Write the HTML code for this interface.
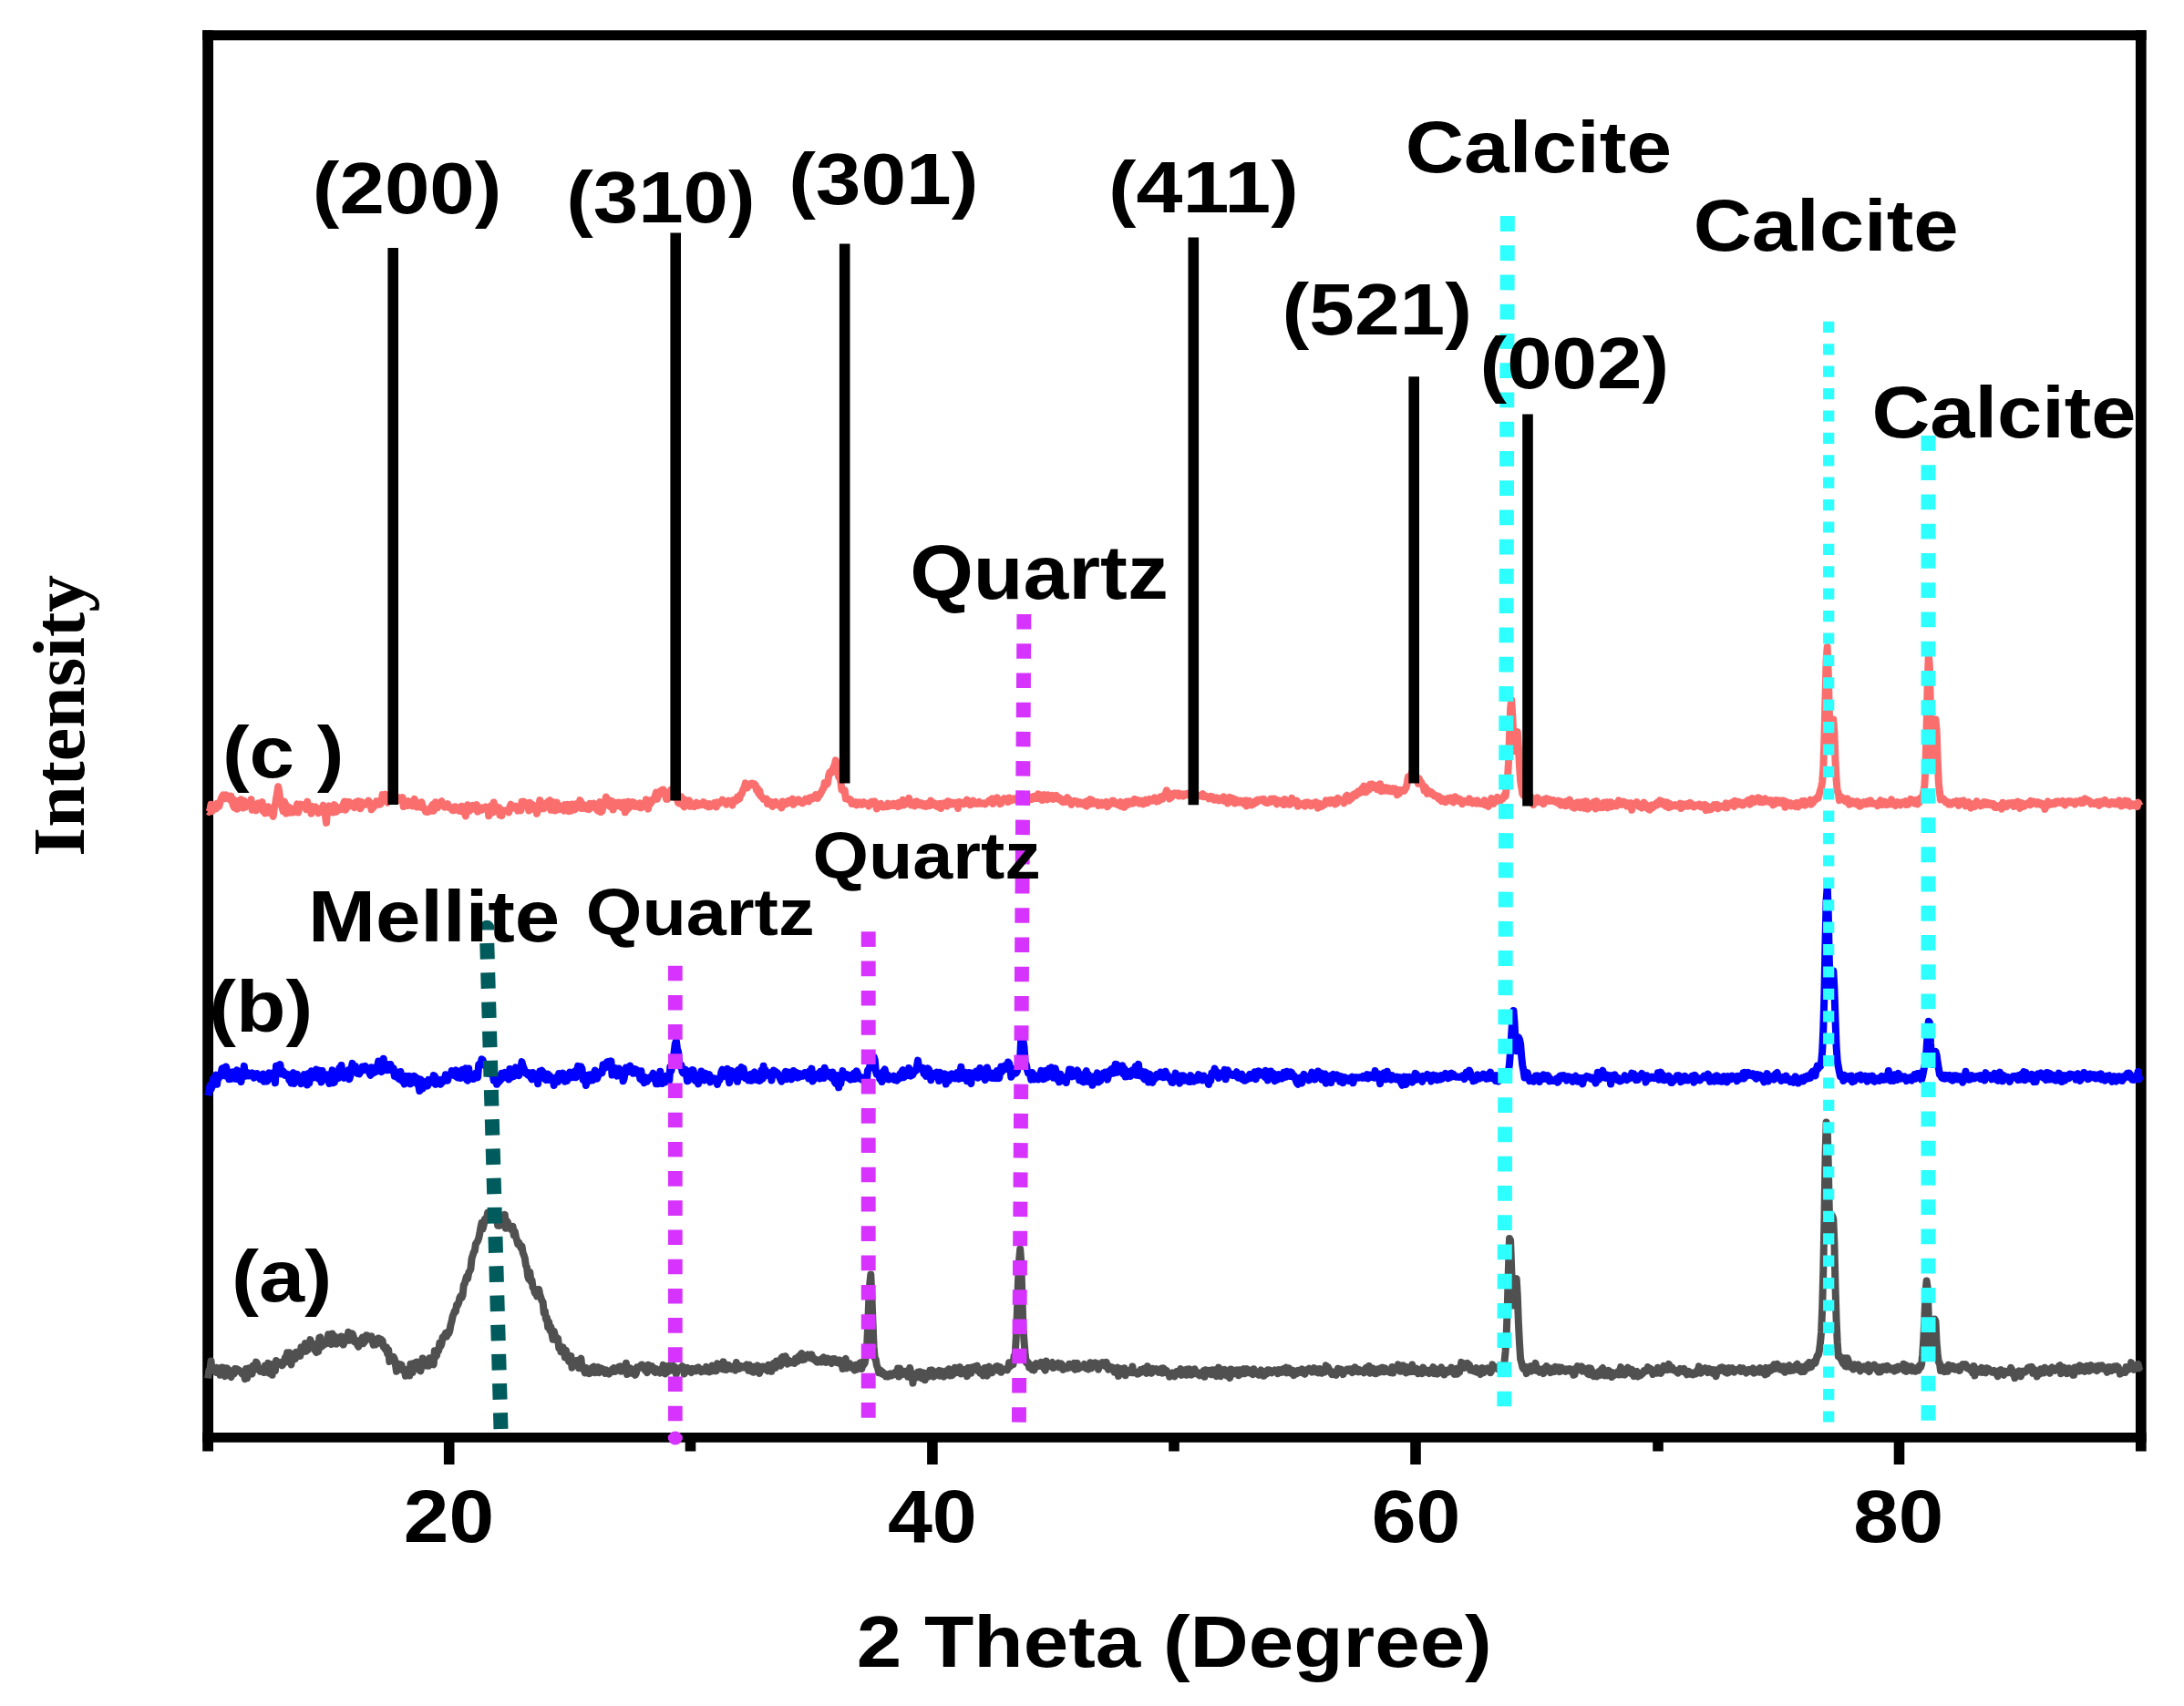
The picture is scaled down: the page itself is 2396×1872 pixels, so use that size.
<!DOCTYPE html>
<html lang="en">
<head>
<meta charset="utf-8">
<title>XRD patterns</title>
<style>
html,body{margin:0;padding:0;background:#fff;}
body{width:2396px;height:1872px;overflow:hidden;}
svg{display:block;}
</style>
</head>
<body>
<svg width="2396" height="1872" viewBox="0 0 2396 1872">
<rect width="2396" height="1872" fill="#fff"/>
<g stroke="#000" fill="none" stroke-linecap="butt">
<line x1="228.1" y1="33.2" x2="228.1" y2="1592.5" stroke-width="11.8"/>
<line x1="2348.8" y1="33.2" x2="2348.8" y2="1592.5" stroke-width="11.7"/>
<line x1="222.2" y1="38.7" x2="2354.6" y2="38.7" stroke-width="11"/>
<line x1="222.2" y1="1577.4" x2="2354.6" y2="1577.4" stroke-width="10.6"/>
<line x1="492.7" y1="1577" x2="492.7" y2="1607" stroke-width="11.6"/>
<line x1="1022.9" y1="1577" x2="1022.9" y2="1607" stroke-width="11.6"/>
<line x1="1553.0" y1="1577" x2="1553.0" y2="1607" stroke-width="11.6"/>
<line x1="2083.5" y1="1577" x2="2083.5" y2="1607" stroke-width="11.6"/>
<line x1="757.5" y1="1577" x2="757.5" y2="1592.5" stroke-width="11.6"/>
<line x1="1288.0" y1="1577" x2="1288.0" y2="1592.5" stroke-width="11.6"/>
<line x1="1819.0" y1="1577" x2="1819.0" y2="1592.5" stroke-width="11.6"/>
</g>
<polyline points="228.2,1512.5 229.3,1503.9 230.4,1502.4 231.5,1493.5 232.6,1503.2 233.7,1501.9 234.8,1501.2 235.9,1504.8 237.0,1505.8 238.1,1500.9 239.2,1502.2 240.3,1504.2 241.4,1508.8 242.5,1508.1 243.6,1500.6 244.7,1500.7 245.8,1507.2 246.9,1510.0 248.0,1503.7 249.1,1501.4 250.2,1508.4 251.3,1503.5 252.4,1507.8 253.5,1511.1 254.6,1507.5 255.7,1505.2 256.8,1507.5 257.9,1502.0 259.0,1503.7 260.1,1502.4 261.2,1504.1 262.3,1503.6 263.4,1505.3 264.5,1505.2 265.6,1507.5 266.7,1507.9 267.8,1509.0 268.9,1513.2 270.0,1501.9 271.1,1512.3 272.2,1505.9 273.3,1501.4 274.4,1504.6 275.5,1504.8 276.6,1507.6 277.7,1498.6 278.8,1502.8 279.9,1501.8 281.0,1494.6 282.1,1496.2 283.2,1502.8 284.3,1503.2 285.4,1504.7 286.5,1502.7 287.6,1502.4 288.7,1501.6 289.8,1506.0 290.9,1498.5 292.0,1501.3 293.1,1503.4 294.2,1495.9 295.3,1506.7 296.4,1498.5 297.5,1500.9 298.6,1508.8 299.7,1496.8 300.8,1497.1 301.9,1504.0 303.0,1492.9 304.1,1494.3 305.2,1497.0 306.3,1496.1 307.4,1496.1 308.5,1494.9 309.6,1498.3 310.7,1496.7 311.8,1494.7 312.9,1489.5 314.0,1489.1 315.1,1484.4 316.2,1494.0 317.3,1484.3 318.4,1494.2 319.5,1497.4 320.6,1485.8 321.7,1486.6 322.8,1486.8 323.9,1491.1 325.0,1483.9 326.1,1485.8 327.2,1483.3 328.3,1483.2 329.4,1487.9 330.5,1478.3 331.6,1481.3 332.7,1481.2 333.8,1482.8 334.9,1474.1 336.0,1482.7 337.1,1479.6 338.2,1480.8 339.3,1477.2 340.4,1470.1 341.5,1473.4 342.6,1478.5 343.7,1475.4 344.8,1475.1 345.9,1482.2 347.0,1484.0 348.1,1475.5 349.2,1483.0 350.3,1467.9 351.4,1467.4 352.5,1478.1 353.6,1473.4 354.7,1476.2 355.8,1475.3 356.9,1472.3 358.0,1474.3 359.1,1471.4 360.2,1464.2 361.3,1470.1 362.4,1469.4 363.5,1475.1 364.6,1463.5 365.7,1467.6 366.8,1466.0 367.9,1467.4 369.0,1474.7 370.1,1470.5 371.2,1467.9 372.3,1470.7 373.4,1473.2 374.5,1466.5 375.6,1469.0 376.7,1475.5 377.8,1472.5 378.9,1468.7 380.0,1466.6 381.1,1467.4 382.2,1461.7 383.3,1470.9 384.4,1468.6 385.5,1468.1 386.6,1463.3 387.7,1466.5 388.8,1472.4 389.9,1472.7 391.0,1471.0 392.1,1475.6 393.2,1477.7 394.3,1471.5 395.4,1471.6 396.5,1469.6 397.6,1467.6 398.7,1474.2 399.8,1472.4 400.9,1471.2 402.0,1465.2 403.1,1465.4 404.2,1469.0 405.3,1467.6 406.4,1469.5 407.5,1466.3 408.6,1471.4 409.7,1475.7 410.8,1474.9 411.9,1475.3 413.0,1469.7 414.1,1473.1 415.2,1468.5 416.3,1473.8 417.4,1469.5 418.5,1470.1 419.6,1471.1 420.7,1478.2 421.8,1478.9 422.9,1481.0 424.0,1478.3 425.1,1485.3 426.2,1481.2 427.3,1494.1 428.4,1489.7 429.5,1492.5 430.6,1493.0 431.7,1488.9 432.8,1491.2 433.9,1497.7 435.0,1504.8 436.1,1496.2 437.2,1499.0 438.3,1502.6 439.4,1497.2 440.5,1497.8 441.6,1503.0 442.7,1504.4 443.8,1502.8 444.9,1509.8 446.0,1503.1 447.1,1504.8 448.2,1509.3 449.3,1509.5 450.4,1496.7 451.5,1500.9 452.6,1506.2 453.7,1496.0 454.8,1497.1 455.9,1495.2 457.0,1494.5 458.1,1495.0 459.2,1499.7 460.3,1503.6 461.4,1504.3 462.5,1498.3 463.6,1490.5 464.7,1497.6 465.8,1496.4 466.9,1498.4 468.0,1497.0 469.1,1492.6 470.2,1498.8 471.3,1490.3 472.4,1494.1 473.5,1496.3 474.6,1495.0 475.7,1497.3 476.8,1482.2 477.9,1488.8 479.0,1487.4 480.1,1481.5 481.2,1482.1 482.3,1473.9 483.4,1477.2 484.5,1474.5 485.6,1467.4 486.7,1466.4 487.8,1466.1 488.9,1462.8 490.0,1466.6 491.1,1461.8 492.2,1463.4 493.3,1460.5 494.4,1454.0 495.5,1450.2 496.6,1444.5 497.7,1441.8 498.8,1438.6 499.9,1439.2 501.0,1432.1 502.1,1432.3 503.2,1429.6 504.3,1424.2 505.4,1422.1 506.5,1424.1 507.6,1421.3 508.7,1410.0 509.8,1408.4 510.9,1404.2 512.0,1400.8 513.1,1403.1 514.2,1396.6 515.3,1394.7 516.4,1392.5 517.5,1381.1 518.6,1377.6 519.7,1374.0 520.8,1372.8 521.9,1364.9 523.0,1363.5 524.1,1361.7 525.2,1358.6 526.3,1353.4 527.4,1346.8 528.5,1341.8 529.6,1348.4 530.7,1344.1 531.8,1337.7 532.9,1337.4 534.0,1336.2 535.1,1330.9 536.2,1336.3 537.3,1332.2 538.4,1333.4 539.5,1336.8 540.6,1334.4 541.7,1337.1 542.8,1337.5 543.9,1337.1 545.0,1337.9 546.1,1344.6 547.2,1338.5 548.3,1344.9 549.4,1336.9 550.5,1342.5 551.6,1341.1 552.7,1338.6 553.8,1332.9 554.9,1347.7 556.0,1339.6 557.1,1341.3 558.2,1346.1 559.3,1347.0 560.4,1348.9 561.5,1348.5 562.6,1345.8 563.7,1355.2 564.8,1351.3 565.9,1357.1 567.0,1360.6 568.1,1365.1 569.2,1363.3 570.3,1365.9 571.4,1369.3 572.5,1367.4 573.6,1374.5 574.7,1377.3 575.8,1380.5 576.9,1388.5 578.0,1390.6 579.1,1400.4 580.2,1403.6 581.3,1395.9 582.4,1405.7 583.5,1404.9 584.6,1412.8 585.7,1414.0 586.8,1418.8 587.9,1418.9 589.0,1422.3 590.1,1420.5 591.2,1414.9 592.3,1421.0 593.4,1424.0 594.5,1427.5 595.6,1428.6 596.7,1440.7 597.8,1438.5 598.9,1447.3 600.0,1445.9 601.1,1456.3 602.2,1450.5 603.3,1459.6 604.4,1456.0 605.5,1464.1 606.6,1469.7 607.7,1460.8 608.8,1465.0 609.9,1470.4 611.0,1470.7 612.1,1468.8 613.2,1479.0 614.3,1477.3 615.4,1483.2 616.5,1481.6 617.6,1478.3 618.7,1482.0 619.8,1489.5 620.9,1481.8 622.0,1486.3 623.1,1491.2 624.2,1493.9 625.3,1494.5 626.4,1488.0 627.5,1500.7 628.6,1494.1 629.7,1495.2 630.8,1495.6 631.9,1495.1 633.0,1493.0 634.1,1495.4 635.2,1501.3 636.3,1493.2 637.4,1490.7 638.5,1501.5 639.6,1502.0 640.7,1503.2 641.8,1506.5 642.9,1500.9 644.0,1503.7 645.1,1505.0 646.2,1507.1 647.3,1506.8 648.4,1502.2 649.5,1500.8 650.6,1503.4 651.7,1499.7 652.8,1506.2 653.9,1502.0 655.0,1501.8 656.1,1500.3 657.2,1506.2 658.3,1503.1 659.4,1501.4 660.5,1504.1 661.6,1502.6 662.7,1504.7 663.8,1506.9 664.9,1503.3 666.0,1505.6 667.1,1505.8 668.2,1507.6 669.3,1506.2 670.4,1504.7 671.5,1502.8 672.6,1504.9 673.7,1501.2 674.8,1505.0 675.9,1503.0 677.0,1503.7 678.1,1500.6 679.2,1499.6 680.3,1499.4 681.4,1504.8 682.5,1502.0 683.6,1502.6 684.7,1499.3 685.8,1504.2 686.9,1495.8 688.0,1508.1 689.1,1504.1 690.2,1504.7 691.3,1501.2 692.4,1502.2 693.5,1506.8 694.6,1504.9 695.7,1506.7 696.8,1508.8 697.9,1507.0 699.0,1500.2 700.1,1502.0 701.2,1501.0 702.3,1501.1 703.4,1497.7 704.5,1497.5 705.6,1500.7 706.7,1501.0 707.8,1503.8 708.9,1501.7 710.0,1506.1 711.1,1497.7 712.2,1498.7 713.3,1502.6 714.4,1501.1 715.5,1499.3 716.6,1503.9 717.7,1505.0 718.8,1505.9 719.9,1502.1 721.0,1503.5 722.1,1504.4 723.2,1504.1 724.3,1506.6 725.4,1502.6 726.5,1504.6 727.6,1497.9 728.7,1505.3 729.8,1507.4 730.9,1503.2 732.0,1505.9 733.1,1499.0 734.2,1502.2 735.3,1499.0 736.4,1503.5 737.5,1503.7 738.6,1498.7 739.7,1499.8 740.8,1500.3 741.9,1507.8 743.0,1501.3 744.1,1501.8 745.2,1502.5 746.3,1502.5 747.4,1501.5 748.5,1499.1 749.6,1501.2 750.7,1507.5 751.8,1504.4 752.9,1503.1 754.0,1500.9 755.1,1504.3 756.2,1504.5 757.3,1502.6 758.4,1506.1 759.5,1501.8 760.6,1502.2 761.7,1504.2 762.8,1502.2 763.9,1504.2 765.0,1500.8 766.1,1500.4 767.2,1503.0 768.3,1502.6 769.4,1505.3 770.5,1503.5 771.6,1502.6 772.7,1503.9 773.8,1504.5 774.9,1499.9 776.0,1502.3 777.1,1501.7 778.2,1505.4 779.3,1500.9 780.4,1504.6 781.5,1498.6 782.6,1501.5 783.7,1504.2 784.8,1500.8 785.9,1504.3 787.0,1496.2 788.1,1501.4 789.2,1501.6 790.3,1500.6 791.4,1496.9 792.5,1502.2 793.6,1494.4 794.7,1502.7 795.8,1501.1 796.9,1503.0 798.0,1500.0 799.1,1497.9 800.2,1499.5 801.3,1499.6 802.4,1502.2 803.5,1499.7 804.6,1501.3 805.7,1501.4 806.8,1503.6 807.9,1495.0 809.0,1499.0 810.1,1501.8 811.2,1501.9 812.3,1498.8 813.4,1499.5 814.5,1500.0 815.6,1500.6 816.7,1498.9 817.8,1498.8 818.9,1497.6 820.0,1499.4 821.1,1503.8 822.2,1497.7 823.3,1502.4 824.4,1504.7 825.5,1500.3 826.6,1505.8 827.7,1499.7 828.8,1504.6 829.9,1500.8 831.0,1498.3 832.1,1502.7 833.2,1506.9 834.3,1500.8 835.4,1503.4 836.5,1499.4 837.6,1499.4 838.7,1502.5 839.8,1500.7 840.9,1502.5 842.0,1504.2 843.1,1497.8 844.2,1498.7 845.3,1499.9 846.4,1504.8 847.5,1497.3 848.6,1496.0 849.7,1497.5 850.8,1501.0 851.9,1493.6 853.0,1493.7 854.1,1494.1 855.2,1495.4 856.3,1498.7 857.4,1489.9 858.5,1488.9 859.6,1493.7 860.7,1495.0 861.8,1488.3 862.9,1492.5 864.0,1496.6 865.1,1492.7 866.2,1495.0 867.3,1494.0 868.4,1495.0 869.5,1494.2 870.6,1493.6 871.7,1495.9 872.8,1490.9 873.9,1492.0 875.0,1493.8 876.1,1488.6 877.2,1488.2 878.3,1486.3 879.4,1485.2 880.5,1492.2 881.6,1488.1 882.7,1491.6 883.8,1488.8 884.9,1487.2 886.0,1486.4 887.1,1487.9 888.2,1487.4 889.3,1490.2 890.4,1486.4 891.5,1489.9 892.6,1491.7 893.7,1491.0 894.8,1491.8 895.9,1494.4 897.0,1494.8 898.1,1493.2 899.2,1493.3 900.3,1491.8 901.4,1494.6 902.5,1492.9 903.6,1489.3 904.7,1492.5 905.8,1494.8 906.9,1493.8 908.0,1490.6 909.1,1494.5 910.2,1494.0 911.3,1493.8 912.4,1496.0 913.5,1491.2 914.6,1493.4 915.7,1491.2 916.8,1494.5 917.9,1495.2 919.0,1494.1 920.1,1495.5 921.2,1492.4 922.3,1496.9 923.4,1493.0 924.5,1502.1 925.6,1500.0 926.7,1493.6 927.8,1491.0 928.9,1501.4 930.0,1496.4 931.1,1500.4 932.2,1496.2 933.3,1500.0 934.4,1498.3 935.5,1501.5 936.6,1499.0 937.7,1503.5 938.8,1497.7 939.9,1502.8 941.0,1499.6 942.1,1501.0 943.2,1495.6 944.3,1495.1 945.4,1502.0 946.5,1495.9 947.6,1497.4 948.7,1495.6 949.8,1489.5 950.9,1481.5 952.0,1457.3 953.1,1429.8 954.2,1409.2 955.3,1398.6 956.4,1421.7 957.5,1450.7 958.6,1477.5 959.7,1490.1 960.8,1491.9 961.9,1498.4 963.0,1500.9 964.1,1506.3 965.2,1505.2 966.3,1504.0 967.4,1507.1 968.5,1505.7 969.6,1508.4 970.7,1507.8 971.8,1510.4 972.9,1508.7 974.0,1510.5 975.1,1508.0 976.2,1509.8 977.3,1507.5 978.4,1509.3 979.5,1508.0 980.6,1506.9 981.7,1506.0 982.8,1506.4 983.9,1508.5 985.0,1501.6 986.1,1510.6 987.2,1501.4 988.3,1506.7 989.4,1505.9 990.5,1508.0 991.6,1506.1 992.7,1504.8 993.8,1504.8 994.9,1506.9 996.0,1510.7 997.1,1506.3 998.2,1501.0 999.3,1506.1 1000.4,1509.3 1001.5,1517.6 1002.6,1508.0 1003.7,1509.3 1004.8,1511.6 1005.9,1510.6 1007.0,1505.9 1008.1,1511.2 1009.2,1505.3 1010.3,1508.0 1011.4,1512.4 1012.5,1506.2 1013.6,1509.0 1014.7,1514.3 1015.8,1509.2 1016.9,1506.8 1018.0,1507.4 1019.1,1510.4 1020.2,1503.8 1021.3,1505.8 1022.4,1503.5 1023.5,1504.3 1024.6,1510.6 1025.7,1507.2 1026.8,1506.3 1027.9,1508.5 1029.0,1505.4 1030.1,1504.0 1031.2,1509.8 1032.3,1509.0 1033.4,1504.7 1034.5,1508.6 1035.6,1510.6 1036.7,1508.3 1037.8,1508.4 1038.9,1504.0 1040.0,1506.8 1041.1,1502.2 1042.2,1509.5 1043.3,1505.8 1044.4,1509.2 1045.5,1503.4 1046.6,1507.3 1047.7,1500.8 1048.8,1503.6 1049.9,1505.9 1051.0,1505.3 1052.1,1504.1 1053.2,1500.0 1054.3,1507.5 1055.4,1505.8 1056.5,1507.1 1057.6,1507.1 1058.7,1503.2 1059.8,1504.9 1060.9,1510.2 1062.0,1501.0 1063.1,1503.7 1064.2,1501.0 1065.3,1506.8 1066.4,1502.9 1067.5,1500.2 1068.6,1501.9 1069.7,1500.5 1070.8,1499.1 1071.9,1498.7 1073.0,1504.2 1074.1,1503.4 1075.2,1506.6 1076.3,1503.7 1077.4,1505.9 1078.5,1509.4 1079.6,1501.3 1080.7,1500.8 1081.8,1506.2 1082.9,1509.6 1084.0,1501.5 1085.1,1499.7 1086.2,1503.5 1087.3,1503.4 1088.4,1506.3 1089.5,1501.7 1090.6,1503.5 1091.7,1503.1 1092.8,1499.4 1093.9,1499.1 1095.0,1503.8 1096.1,1503.7 1097.2,1500.0 1098.3,1505.8 1099.4,1504.0 1100.5,1502.7 1101.6,1503.0 1102.7,1502.3 1103.8,1503.2 1104.9,1503.4 1106.0,1501.1 1107.1,1495.2 1108.2,1499.4 1109.3,1496.8 1110.4,1494.7 1111.5,1497.4 1112.6,1487.6 1113.7,1486.4 1114.8,1466.9 1115.9,1439.2 1117.0,1405.7 1118.1,1382.6 1119.2,1370.6 1120.3,1385.7 1121.4,1423.6 1122.5,1457.5 1123.6,1472.8 1124.7,1486.5 1125.8,1495.1 1126.9,1496.1 1128.0,1495.0 1129.1,1500.6 1130.2,1497.9 1131.3,1498.8 1132.4,1502.9 1133.5,1498.0 1134.6,1503.6 1135.7,1497.4 1136.8,1496.2 1137.9,1497.0 1139.0,1499.1 1140.1,1499.0 1141.2,1498.9 1142.3,1494.8 1143.4,1496.5 1144.5,1499.1 1145.6,1501.9 1146.7,1503.7 1147.8,1493.5 1148.9,1499.0 1150.0,1497.8 1151.1,1498.4 1152.2,1499.1 1153.3,1496.3 1154.4,1495.1 1155.5,1501.0 1156.6,1500.4 1157.7,1497.9 1158.8,1498.6 1159.9,1497.4 1161.0,1495.8 1162.1,1500.4 1163.2,1497.5 1164.3,1496.5 1165.4,1497.8 1166.5,1502.9 1167.6,1500.3 1168.7,1499.9 1169.8,1499.6 1170.9,1501.4 1172.0,1501.1 1173.1,1496.7 1174.2,1499.3 1175.3,1498.6 1176.4,1500.7 1177.5,1500.2 1178.6,1495.8 1179.7,1502.8 1180.8,1500.6 1181.9,1495.8 1183.0,1502.0 1184.1,1499.6 1185.2,1500.3 1186.3,1499.5 1187.4,1500.1 1188.5,1499.1 1189.6,1497.0 1190.7,1499.7 1191.8,1501.7 1192.9,1501.4 1194.0,1502.5 1195.1,1500.5 1196.2,1495.2 1197.3,1501.4 1198.4,1497.6 1199.5,1496.0 1200.6,1498.0 1201.7,1495.4 1202.8,1499.1 1203.9,1496.1 1205.0,1502.7 1206.1,1498.0 1207.2,1497.8 1208.3,1498.0 1209.4,1495.0 1210.5,1498.1 1211.6,1498.4 1212.7,1499.2 1213.8,1494.8 1214.9,1499.8 1216.0,1502.8 1217.1,1499.3 1218.2,1500.7 1219.3,1502.4 1220.4,1500.4 1221.5,1501.9 1222.6,1505.6 1223.7,1504.3 1224.8,1501.6 1225.9,1500.7 1227.0,1510.1 1228.1,1506.2 1229.2,1501.9 1230.3,1505.9 1231.4,1507.1 1232.5,1505.8 1233.6,1501.2 1234.7,1509.3 1235.8,1506.3 1236.9,1504.2 1238.0,1506.0 1239.1,1503.7 1240.2,1503.3 1241.3,1506.0 1242.4,1499.5 1243.5,1506.3 1244.6,1505.0 1245.7,1505.9 1246.8,1506.3 1247.9,1507.7 1249.0,1507.4 1250.1,1506.1 1251.2,1503.2 1252.3,1505.6 1253.4,1503.1 1254.5,1502.1 1255.6,1505.3 1256.7,1505.1 1257.8,1506.9 1258.9,1499.3 1260.0,1505.2 1261.1,1505.1 1262.2,1503.7 1263.3,1506.8 1264.4,1501.7 1265.5,1504.6 1266.6,1503.3 1267.7,1504.3 1268.8,1502.3 1269.9,1504.2 1271.0,1505.8 1272.1,1504.3 1273.2,1504.4 1274.3,1501.6 1275.4,1506.6 1276.5,1501.4 1277.6,1503.2 1278.7,1505.0 1279.8,1504.0 1280.9,1506.9 1282.0,1506.5 1283.1,1510.7 1284.2,1508.8 1285.3,1508.9 1286.4,1506.4 1287.5,1509.3 1288.6,1510.3 1289.7,1508.6 1290.8,1505.1 1291.9,1505.4 1293.0,1505.5 1294.1,1505.5 1295.2,1502.0 1296.3,1508.9 1297.4,1504.2 1298.5,1504.6 1299.6,1503.4 1300.7,1504.3 1301.8,1508.8 1302.9,1502.5 1304.0,1503.5 1305.1,1502.5 1306.2,1503.7 1307.3,1508.6 1308.4,1504.1 1309.5,1504.9 1310.6,1502.3 1311.7,1505.8 1312.8,1507.4 1313.9,1506.1 1315.0,1506.5 1316.1,1509.3 1317.2,1508.8 1318.3,1507.5 1319.4,1505.9 1320.5,1504.1 1321.6,1510.8 1322.7,1503.3 1323.8,1507.8 1324.9,1505.6 1326.0,1504.1 1327.1,1507.5 1328.2,1503.9 1329.3,1508.3 1330.4,1503.2 1331.5,1506.5 1332.6,1508.3 1333.7,1503.3 1334.8,1510.1 1335.9,1507.3 1337.0,1500.6 1338.1,1508.8 1339.2,1510.1 1340.3,1505.6 1341.4,1506.0 1342.5,1507.6 1343.6,1502.8 1344.7,1507.5 1345.8,1509.4 1346.9,1506.1 1348.0,1509.7 1349.1,1512.0 1350.2,1502.6 1351.3,1502.7 1352.4,1504.9 1353.5,1507.6 1354.6,1506.8 1355.7,1503.8 1356.8,1503.2 1357.9,1504.0 1359.0,1509.3 1360.1,1503.3 1361.2,1504.0 1362.3,1507.2 1363.4,1504.2 1364.5,1502.3 1365.6,1507.3 1366.7,1504.6 1367.8,1502.2 1368.9,1502.9 1370.0,1506.1 1371.1,1503.6 1372.2,1505.5 1373.3,1507.4 1374.4,1508.1 1375.5,1502.2 1376.6,1505.4 1377.7,1505.7 1378.8,1506.6 1379.9,1507.9 1381.0,1508.7 1382.1,1505.0 1383.2,1503.5 1384.3,1506.4 1385.4,1504.7 1386.5,1509.8 1387.6,1506.7 1388.7,1505.7 1389.8,1507.4 1390.9,1503.2 1392.0,1503.4 1393.1,1503.4 1394.2,1505.0 1395.3,1506.3 1396.4,1505.3 1397.5,1505.4 1398.6,1503.5 1399.7,1505.0 1400.8,1503.9 1401.9,1507.1 1403.0,1503.2 1404.1,1504.3 1405.2,1504.9 1406.3,1505.8 1407.4,1502.3 1408.5,1503.3 1409.6,1501.9 1410.7,1500.8 1411.8,1506.4 1412.9,1505.2 1414.0,1501.3 1415.1,1502.9 1416.2,1506.7 1417.3,1504.6 1418.4,1504.0 1419.5,1509.2 1420.6,1505.4 1421.7,1505.4 1422.8,1507.1 1423.9,1503.8 1425.0,1505.0 1426.1,1504.9 1427.2,1505.9 1428.3,1502.4 1429.4,1506.3 1430.5,1504.6 1431.6,1507.8 1432.7,1504.5 1433.8,1502.9 1434.9,1503.0 1436.0,1501.8 1437.1,1504.1 1438.2,1503.8 1439.3,1505.6 1440.4,1503.5 1441.5,1501.2 1442.6,1505.2 1443.7,1502.0 1444.8,1503.6 1445.9,1506.4 1447.0,1506.3 1448.1,1502.1 1449.2,1503.6 1450.3,1506.8 1451.4,1506.0 1452.5,1504.8 1453.6,1505.3 1454.7,1498.4 1455.8,1502.5 1456.9,1500.2 1458.0,1502.5 1459.1,1503.7 1460.2,1506.2 1461.3,1508.2 1462.4,1507.8 1463.5,1506.9 1464.6,1505.5 1465.7,1509.0 1466.8,1506.5 1467.9,1501.7 1469.0,1505.1 1470.1,1506.0 1471.2,1502.6 1472.3,1505.2 1473.4,1508.1 1474.5,1504.2 1475.6,1504.7 1476.7,1504.7 1477.8,1502.7 1478.9,1503.8 1480.0,1502.5 1481.1,1504.0 1482.2,1502.6 1483.3,1506.1 1484.4,1503.4 1485.5,1505.2 1486.6,1500.3 1487.7,1503.1 1488.8,1504.7 1489.9,1505.3 1491.0,1502.8 1492.1,1504.3 1493.2,1505.0 1494.3,1504.2 1495.4,1504.2 1496.5,1506.3 1497.6,1502.4 1498.7,1500.9 1499.8,1503.6 1500.9,1505.0 1502.0,1499.0 1503.1,1506.8 1504.2,1503.8 1505.3,1504.7 1506.4,1501.5 1507.5,1503.2 1508.6,1507.2 1509.7,1507.2 1510.8,1504.4 1511.9,1502.3 1513.0,1502.5 1514.1,1505.6 1515.2,1501.1 1516.3,1500.7 1517.4,1502.7 1518.5,1505.3 1519.6,1501.3 1520.7,1504.7 1521.8,1505.0 1522.9,1504.5 1524.0,1503.8 1525.1,1506.0 1526.2,1504.8 1527.3,1500.0 1528.4,1506.5 1529.5,1503.8 1530.6,1503.4 1531.7,1501.9 1532.8,1502.2 1533.9,1497.4 1535.0,1502.7 1536.1,1504.7 1537.2,1504.8 1538.3,1502.0 1539.4,1498.3 1540.5,1501.1 1541.6,1502.9 1542.7,1506.5 1543.8,1500.1 1544.9,1503.8 1546.0,1505.2 1547.1,1505.2 1548.2,1503.6 1549.3,1497.5 1550.4,1505.0 1551.5,1503.8 1552.6,1504.8 1553.7,1501.5 1554.8,1502.7 1555.9,1507.2 1557.0,1503.8 1558.1,1504.1 1559.2,1502.6 1560.3,1507.1 1561.4,1500.6 1562.5,1503.0 1563.6,1505.0 1564.7,1503.8 1565.8,1505.7 1566.9,1504.7 1568.0,1507.0 1569.1,1503.4 1570.2,1503.7 1571.3,1504.7 1572.4,1500.1 1573.5,1507.2 1574.6,1502.0 1575.7,1506.7 1576.8,1507.6 1577.9,1507.0 1579.0,1505.4 1580.1,1503.7 1581.2,1500.4 1582.3,1506.3 1583.4,1504.3 1584.5,1508.5 1585.6,1503.9 1586.7,1506.0 1587.8,1503.7 1588.9,1505.6 1590.0,1504.0 1591.1,1504.4 1592.2,1500.7 1593.3,1503.4 1594.4,1504.7 1595.5,1507.9 1596.6,1505.5 1597.7,1501.9 1598.8,1507.8 1599.9,1504.6 1601.0,1505.8 1602.1,1500.7 1603.2,1494.9 1604.3,1499.9 1605.4,1498.7 1606.5,1500.9 1607.6,1496.2 1608.7,1497.2 1609.8,1496.0 1610.9,1499.5 1612.0,1497.6 1613.1,1503.4 1614.2,1503.0 1615.3,1503.9 1616.4,1502.2 1617.5,1503.5 1618.6,1505.1 1619.7,1501.2 1620.8,1505.7 1621.9,1502.7 1623.0,1505.7 1624.1,1508.0 1625.2,1506.7 1626.3,1501.1 1627.4,1506.4 1628.5,1503.2 1629.6,1503.0 1630.7,1503.6 1631.8,1501.5 1632.9,1504.6 1634.0,1502.4 1635.1,1506.2 1636.2,1504.2 1637.3,1497.4 1638.4,1500.7 1639.5,1500.3 1640.6,1500.7 1641.7,1500.4 1642.8,1502.1 1643.9,1500.9 1645.0,1498.4 1646.1,1501.3 1647.2,1501.7 1648.3,1498.7 1649.4,1499.5 1650.5,1494.0 1651.6,1482.8 1652.7,1464.3 1653.8,1432.9 1654.9,1392.6 1656.0,1358.9 1657.1,1361.1 1658.2,1392.2 1659.3,1419.7 1660.4,1432.6 1661.5,1425.2 1662.6,1407.2 1663.7,1403.0 1664.8,1422.0 1665.9,1452.3 1667.0,1473.9 1668.1,1491.1 1669.2,1495.2 1670.3,1500.1 1671.4,1502.2 1672.5,1499.4 1673.6,1500.8 1674.7,1507.1 1675.8,1500.3 1676.9,1501.1 1678.0,1499.9 1679.1,1499.2 1680.2,1504.6 1681.3,1500.8 1682.4,1500.9 1683.5,1500.4 1684.6,1495.9 1685.7,1503.9 1686.8,1501.1 1687.9,1502.4 1689.0,1505.8 1690.1,1502.8 1691.2,1503.7 1692.3,1504.2 1693.4,1507.0 1694.5,1501.3 1695.6,1503.0 1696.7,1499.2 1697.8,1503.6 1698.9,1504.3 1700.0,1501.3 1701.1,1506.1 1702.2,1503.4 1703.3,1505.3 1704.4,1501.3 1705.5,1505.0 1706.6,1499.9 1707.7,1502.1 1708.8,1501.5 1709.9,1500.4 1711.0,1505.2 1712.1,1504.7 1713.2,1500.5 1714.3,1504.0 1715.4,1503.1 1716.5,1503.5 1717.6,1504.7 1718.7,1502.3 1719.8,1503.9 1720.9,1504.1 1722.0,1502.1 1723.1,1502.4 1724.2,1505.5 1725.3,1503.7 1726.4,1508.8 1727.5,1508.2 1728.6,1501.8 1729.7,1504.1 1730.8,1499.1 1731.9,1502.4 1733.0,1502.0 1734.1,1502.4 1735.2,1499.4 1736.3,1504.6 1737.4,1504.1 1738.5,1501.8 1739.6,1503.4 1740.7,1505.7 1741.8,1507.5 1742.9,1501.3 1744.0,1508.3 1745.1,1501.5 1746.2,1504.0 1747.3,1505.4 1748.4,1510.1 1749.5,1508.3 1750.6,1508.3 1751.7,1510.4 1752.8,1507.2 1753.9,1505.3 1755.0,1509.1 1756.1,1505.0 1757.2,1502.3 1758.3,1501.1 1759.4,1505.4 1760.5,1509.4 1761.6,1507.3 1762.7,1506.2 1763.8,1509.3 1764.9,1503.8 1766.0,1508.5 1767.1,1506.7 1768.2,1511.0 1769.3,1506.1 1770.4,1509.5 1771.5,1507.7 1772.6,1506.8 1773.7,1507.7 1774.8,1505.4 1775.9,1508.4 1777.0,1504.6 1778.1,1500.1 1779.2,1508.3 1780.3,1508.2 1781.4,1506.4 1782.5,1508.5 1783.6,1506.9 1784.7,1503.4 1785.8,1500.7 1786.9,1502.9 1788.0,1504.7 1789.1,1506.7 1790.2,1502.8 1791.3,1504.3 1792.4,1510.1 1793.5,1505.5 1794.6,1505.5 1795.7,1505.0 1796.8,1510.5 1797.9,1508.2 1799.0,1507.9 1800.1,1508.9 1801.2,1506.7 1802.3,1506.9 1803.4,1504.2 1804.5,1504.9 1805.6,1504.1 1806.7,1504.2 1807.8,1500.1 1808.9,1502.5 1810.0,1502.5 1811.1,1502.1 1812.2,1503.7 1813.3,1508.0 1814.4,1506.1 1815.5,1504.2 1816.6,1504.5 1817.7,1506.7 1818.8,1500.7 1819.9,1504.0 1821.0,1506.6 1822.1,1506.9 1823.2,1504.9 1824.3,1504.1 1825.4,1498.8 1826.5,1501.1 1827.6,1502.4 1828.7,1503.2 1829.8,1503.1 1830.9,1496.9 1832.0,1500.7 1833.1,1502.6 1834.2,1500.4 1835.3,1501.9 1836.4,1503.8 1837.5,1503.8 1838.6,1503.9 1839.7,1505.5 1840.8,1506.6 1841.9,1503.6 1843.0,1502.1 1844.1,1503.1 1845.2,1503.7 1846.3,1504.9 1847.4,1501.8 1848.5,1503.6 1849.6,1504.8 1850.7,1508.3 1851.8,1506.5 1852.9,1505.1 1854.0,1507.5 1855.1,1506.1 1856.2,1506.4 1857.3,1508.4 1858.4,1506.8 1859.5,1506.2 1860.6,1507.2 1861.7,1503.9 1862.8,1504.7 1863.9,1499.4 1865.0,1502.7 1866.1,1506.7 1867.2,1502.4 1868.3,1503.3 1869.4,1502.5 1870.5,1501.3 1871.6,1504.8 1872.7,1503.7 1873.8,1506.2 1874.9,1501.8 1876.0,1503.9 1877.1,1503.3 1878.2,1503.0 1879.3,1507.0 1880.4,1503.2 1881.5,1503.2 1882.6,1510.2 1883.7,1504.1 1884.8,1503.4 1885.9,1504.5 1887.0,1501.0 1888.1,1503.8 1889.2,1500.3 1890.3,1501.7 1891.4,1501.4 1892.5,1505.5 1893.6,1503.9 1894.7,1506.6 1895.8,1506.3 1896.9,1501.1 1898.0,1503.8 1899.1,1501.7 1900.2,1501.2 1901.3,1505.1 1902.4,1505.6 1903.5,1502.8 1904.6,1503.4 1905.7,1503.4 1906.8,1503.7 1907.9,1503.9 1909.0,1501.0 1910.1,1504.8 1911.2,1502.2 1912.3,1501.4 1913.4,1504.0 1914.5,1505.2 1915.6,1506.6 1916.7,1505.6 1917.8,1505.2 1918.9,1502.8 1920.0,1504.7 1921.1,1503.9 1922.2,1503.8 1923.3,1501.4 1924.4,1506.7 1925.5,1504.7 1926.6,1504.6 1927.7,1503.4 1928.8,1502.8 1929.9,1505.7 1931.0,1501.1 1932.1,1503.5 1933.2,1504.3 1934.3,1506.5 1935.4,1504.7 1936.5,1508.3 1937.6,1500.9 1938.7,1507.6 1939.8,1504.1 1940.9,1504.8 1942.0,1500.9 1943.1,1503.7 1944.2,1500.2 1945.3,1501.3 1946.4,1497.4 1947.5,1501.9 1948.6,1501.1 1949.7,1496.7 1950.8,1500.7 1951.9,1500.2 1953.0,1502.7 1954.1,1499.4 1955.2,1501.4 1956.3,1504.0 1957.4,1499.4 1958.5,1505.7 1959.6,1502.3 1960.7,1501.5 1961.8,1499.2 1962.9,1498.3 1964.0,1504.2 1965.1,1500.9 1966.2,1500.2 1967.3,1503.7 1968.4,1502.6 1969.5,1501.3 1970.6,1497.7 1971.7,1496.7 1972.8,1503.1 1973.9,1501.0 1975.0,1500.5 1976.1,1505.2 1977.2,1499.8 1978.3,1501.3 1979.4,1505.0 1980.5,1501.2 1981.6,1498.2 1982.7,1497.1 1983.8,1501.1 1984.9,1495.0 1986.0,1498.9 1987.1,1500.0 1988.2,1495.4 1989.3,1496.6 1990.4,1494.0 1991.5,1495.7 1992.6,1491.6 1993.7,1487.4 1994.8,1487.0 1995.9,1482.4 1997.0,1473.8 1998.1,1461.5 1999.2,1434.6 2000.3,1393.8 2001.4,1338.7 2002.5,1269.6 2003.6,1231.6 2004.7,1235.9 2005.8,1278.8 2006.9,1331.2 2008.0,1354.3 2009.1,1347.6 2010.2,1334.1 2011.3,1337.7 2012.4,1363.5 2013.5,1411.5 2014.6,1447.9 2015.7,1472.7 2016.8,1488.2 2017.9,1487.5 2019.0,1490.8 2020.1,1490.6 2021.2,1494.8 2022.3,1496.5 2023.4,1490.2 2024.5,1499.2 2025.6,1499.6 2026.7,1490.3 2027.8,1493.1 2028.9,1497.9 2030.0,1497.6 2031.1,1500.7 2032.2,1498.2 2033.3,1502.5 2034.4,1497.2 2035.5,1501.7 2036.6,1500.1 2037.7,1500.2 2038.8,1497.4 2039.9,1500.4 2041.0,1504.3 2042.1,1499.9 2043.2,1500.9 2044.3,1501.8 2045.4,1499.5 2046.5,1502.4 2047.6,1503.1 2048.7,1501.4 2049.8,1497.7 2050.9,1505.1 2052.0,1501.8 2053.1,1501.5 2054.2,1501.0 2055.3,1500.1 2056.4,1497.7 2057.5,1501.4 2058.6,1501.9 2059.7,1503.8 2060.8,1505.3 2061.9,1500.2 2063.0,1505.4 2064.1,1502.1 2065.2,1503.2 2066.3,1499.6 2067.4,1502.5 2068.5,1499.6 2069.6,1503.1 2070.7,1498.8 2071.8,1501.7 2072.9,1500.8 2074.0,1502.7 2075.1,1502.8 2076.2,1502.9 2077.3,1501.6 2078.4,1504.6 2079.5,1503.8 2080.6,1500.3 2081.7,1503.2 2082.8,1499.5 2083.9,1500.7 2085.0,1500.0 2086.1,1500.0 2087.2,1502.1 2088.3,1496.7 2089.4,1504.0 2090.5,1497.8 2091.6,1504.9 2092.7,1503.7 2093.8,1499.3 2094.9,1503.3 2096.0,1501.6 2097.1,1499.4 2098.2,1504.4 2099.3,1503.9 2100.4,1502.1 2101.5,1504.9 2102.6,1501.4 2103.7,1500.4 2104.8,1503.6 2105.9,1498.5 2107.0,1500.4 2108.1,1497.2 2109.2,1486.3 2110.3,1469.1 2111.4,1444.8 2112.5,1418.4 2113.6,1405.6 2114.7,1413.0 2115.8,1445.5 2116.9,1465.5 2118.0,1482.4 2119.1,1478.6 2120.2,1469.2 2121.3,1455.2 2122.4,1447.5 2123.5,1449.9 2124.6,1473.1 2125.7,1485.7 2126.8,1494.6 2127.9,1495.7 2129.0,1504.0 2130.1,1501.8 2131.2,1503.2 2132.3,1500.2 2133.4,1505.1 2134.5,1504.0 2135.6,1500.3 2136.7,1504.8 2137.8,1497.8 2138.9,1502.1 2140.0,1501.7 2141.1,1501.9 2142.2,1498.8 2143.3,1499.6 2144.4,1502.6 2145.5,1502.8 2146.6,1500.4 2147.7,1500.0 2148.8,1499.6 2149.9,1503.9 2151.0,1500.7 2152.1,1499.9 2153.2,1497.0 2154.3,1497.4 2155.4,1499.0 2156.5,1497.1 2157.6,1501.0 2158.7,1501.6 2159.8,1500.6 2160.9,1502.5 2162.0,1503.9 2163.1,1500.6 2164.2,1506.5 2165.3,1499.0 2166.4,1509.5 2167.5,1501.8 2168.6,1504.9 2169.7,1503.9 2170.8,1505.4 2171.9,1502.7 2173.0,1505.5 2174.1,1500.8 2175.2,1505.9 2176.3,1503.5 2177.4,1504.9 2178.5,1506.3 2179.6,1501.2 2180.7,1502.5 2181.8,1502.0 2182.9,1503.5 2184.0,1504.1 2185.1,1505.5 2186.2,1504.6 2187.3,1504.0 2188.4,1505.9 2189.5,1507.3 2190.6,1507.4 2191.7,1510.2 2192.8,1504.3 2193.9,1506.4 2195.0,1503.0 2196.1,1504.5 2197.2,1507.4 2198.3,1508.7 2199.4,1504.5 2200.5,1506.4 2201.6,1505.3 2202.7,1506.2 2203.8,1505.6 2204.9,1504.3 2206.0,1500.8 2207.1,1502.9 2208.2,1507.6 2209.3,1507.0 2210.4,1512.2 2211.5,1508.0 2212.6,1510.0 2213.7,1505.3 2214.8,1504.5 2215.9,1507.6 2217.0,1510.3 2218.1,1506.9 2219.2,1504.7 2220.3,1505.8 2221.4,1505.8 2222.5,1505.0 2223.6,1503.6 2224.7,1500.8 2225.8,1500.3 2226.9,1501.5 2228.0,1502.4 2229.1,1500.0 2230.2,1506.8 2231.3,1505.1 2232.4,1503.2 2233.5,1506.5 2234.6,1510.5 2235.7,1505.9 2236.8,1505.9 2237.9,1507.7 2239.0,1502.4 2240.1,1504.0 2241.2,1503.4 2242.3,1506.5 2243.4,1500.7 2244.5,1504.9 2245.6,1502.9 2246.7,1503.1 2247.8,1502.4 2248.9,1506.8 2250.0,1501.5 2251.1,1500.6 2252.2,1503.7 2253.3,1501.6 2254.4,1503.9 2255.5,1502.6 2256.6,1502.7 2257.7,1502.8 2258.8,1498.9 2259.9,1498.2 2261.0,1507.2 2262.1,1500.2 2263.2,1504.0 2264.3,1500.5 2265.4,1503.1 2266.5,1503.0 2267.6,1507.2 2268.7,1503.9 2269.8,1501.3 2270.9,1501.8 2272.0,1505.7 2273.1,1506.8 2274.2,1508.9 2275.3,1508.7 2276.4,1500.5 2277.5,1503.0 2278.6,1500.3 2279.7,1503.4 2280.8,1504.4 2281.9,1498.4 2283.0,1504.1 2284.1,1503.5 2285.2,1501.0 2286.3,1500.0 2287.4,1504.9 2288.5,1500.9 2289.6,1499.0 2290.7,1501.9 2291.8,1504.3 2292.9,1503.8 2294.0,1498.1 2295.1,1499.5 2296.2,1501.6 2297.3,1502.7 2298.4,1502.6 2299.5,1499.4 2300.6,1504.1 2301.7,1503.1 2302.8,1498.5 2303.9,1499.8 2305.0,1501.6 2306.1,1498.4 2307.2,1501.8 2308.3,1502.2 2309.4,1500.9 2310.5,1503.1 2311.6,1505.8 2312.7,1500.2 2313.8,1502.4 2314.9,1500.1 2316.0,1504.2 2317.1,1503.4 2318.2,1500.6 2319.3,1499.4 2320.4,1502.8 2321.5,1501.4 2322.6,1499.3 2323.7,1500.2 2324.8,1502.4 2325.9,1507.7 2327.0,1505.5 2328.1,1506.1 2329.2,1505.1 2330.3,1506.0 2331.4,1506.1 2332.5,1500.1 2333.6,1503.5 2334.7,1503.1 2335.8,1502.3 2336.9,1501.8 2338.0,1495.1 2339.1,1501.0 2340.2,1497.6 2341.3,1502.9 2342.4,1499.7 2343.5,1500.4 2344.6,1501.1 2345.7,1496.9 2346.8,1501.4 2347.9,1499.3" fill="none" stroke="#505050" stroke-width="8.0" stroke-linejoin="round" stroke-linecap="butt"/>
<polyline points="228.2,1202.1 229.3,1197.1 230.4,1191.4 231.5,1195.3 232.6,1192.3 233.7,1184.2 234.8,1185.4 235.9,1181.4 237.0,1179.6 238.1,1189.7 239.2,1180.6 240.3,1182.9 241.4,1180.1 242.5,1177.8 243.6,1172.6 244.7,1172.0 245.8,1177.2 246.9,1180.3 248.0,1170.4 249.1,1174.9 250.2,1178.7 251.3,1184.1 252.4,1182.7 253.5,1183.7 254.6,1181.3 255.7,1176.4 256.8,1178.9 257.9,1183.7 259.0,1179.4 260.1,1174.3 261.2,1184.3 262.3,1181.0 263.4,1182.3 264.5,1187.0 265.6,1177.7 266.7,1177.0 267.8,1169.9 268.9,1179.3 270.0,1180.5 271.1,1177.7 272.2,1177.4 273.3,1180.5 274.4,1178.5 275.5,1178.7 276.6,1177.4 277.7,1178.1 278.8,1182.7 279.9,1179.0 281.0,1178.2 282.1,1178.1 283.2,1180.1 284.3,1182.0 285.4,1184.1 286.5,1183.6 287.6,1182.8 288.7,1178.5 289.8,1186.8 290.9,1180.4 292.0,1182.6 293.1,1186.5 294.2,1182.0 295.3,1177.3 296.4,1182.4 297.5,1178.6 298.6,1177.7 299.7,1183.8 300.8,1180.8 301.9,1188.3 303.0,1169.8 304.1,1170.4 305.2,1169.2 306.3,1172.0 307.4,1168.2 308.5,1178.4 309.6,1176.4 310.7,1175.5 311.8,1179.0 312.9,1180.1 314.0,1180.2 315.1,1178.8 316.2,1180.4 317.3,1185.0 318.4,1184.7 319.5,1188.4 320.6,1178.3 321.7,1177.3 322.8,1188.9 323.9,1182.6 325.0,1182.9 326.1,1178.8 327.2,1184.0 328.3,1183.6 329.4,1184.2 330.5,1189.2 331.6,1182.3 332.7,1186.1 333.8,1179.1 334.9,1186.8 336.0,1180.5 337.1,1190.5 338.2,1178.0 339.3,1188.2 340.4,1178.6 341.5,1175.4 342.6,1182.1 343.7,1182.4 344.8,1178.4 345.9,1177.5 347.0,1173.6 348.1,1181.2 349.2,1183.5 350.3,1174.6 351.4,1182.2 352.5,1187.4 353.6,1175.0 354.7,1183.8 355.8,1184.1 356.9,1180.3 358.0,1184.2 359.1,1179.2 360.2,1184.9 361.3,1189.0 362.4,1181.4 363.5,1180.0 364.6,1174.4 365.7,1188.2 366.8,1187.7 367.9,1178.4 369.0,1179.9 370.1,1178.5 371.2,1183.2 372.3,1171.9 373.4,1179.9 374.5,1169.0 375.6,1179.9 376.7,1175.0 377.8,1182.9 378.9,1180.5 380.0,1176.5 381.1,1176.2 382.2,1174.3 383.3,1184.2 384.4,1180.4 385.5,1172.0 386.6,1166.8 387.7,1171.8 388.8,1170.2 389.9,1170.1 391.0,1174.4 392.1,1178.0 393.2,1176.1 394.3,1178.3 395.4,1175.0 396.5,1174.8 397.6,1170.5 398.7,1174.5 399.8,1171.7 400.9,1170.0 402.0,1172.5 403.1,1172.0 404.2,1173.4 405.3,1177.4 406.4,1179.8 407.5,1171.2 408.6,1176.6 409.7,1177.2 410.8,1171.8 411.9,1176.3 413.0,1172.5 414.1,1170.1 415.2,1164.5 416.3,1164.9 417.4,1170.1 418.5,1176.1 419.6,1167.8 420.7,1161.7 421.8,1174.0 422.9,1170.2 424.0,1174.2 425.1,1168.0 426.2,1174.1 427.3,1173.0 428.4,1168.0 429.5,1172.3 430.6,1175.0 431.7,1172.2 432.8,1180.7 433.9,1175.8 435.0,1181.7 436.1,1178.8 437.2,1183.4 438.3,1184.2 439.4,1176.0 440.5,1182.7 441.6,1186.5 442.7,1182.6 443.8,1189.5 444.9,1188.6 446.0,1180.9 447.1,1184.3 448.2,1185.6 449.3,1180.9 450.4,1189.4 451.5,1186.1 452.6,1183.7 453.7,1180.8 454.8,1181.0 455.9,1182.1 457.0,1188.5 458.1,1183.3 459.2,1190.7 460.3,1197.0 461.4,1184.4 462.5,1187.6 463.6,1194.5 464.7,1191.5 465.8,1187.1 466.9,1189.7 468.0,1189.2 469.1,1191.5 470.2,1184.9 471.3,1186.4 472.4,1186.3 473.5,1187.5 474.6,1185.0 475.7,1180.1 476.8,1180.6 477.9,1189.9 479.0,1183.6 480.1,1185.7 481.2,1185.2 482.3,1186.4 483.4,1189.8 484.5,1184.8 485.6,1187.3 486.7,1186.0 487.8,1184.7 488.9,1179.2 490.0,1181.1 491.1,1185.6 492.2,1180.4 493.3,1179.6 494.4,1179.2 495.5,1175.2 496.6,1176.2 497.7,1179.8 498.8,1175.7 499.9,1174.4 501.0,1181.8 502.1,1182.3 503.2,1179.1 504.3,1175.7 505.4,1183.0 506.5,1181.0 507.6,1173.7 508.7,1176.2 509.8,1174.5 510.9,1172.4 512.0,1184.9 513.1,1185.6 514.2,1172.6 515.3,1182.5 516.4,1180.1 517.5,1181.8 518.6,1183.9 519.7,1184.0 520.8,1180.5 521.9,1177.5 523.0,1180.3 524.1,1182.2 525.2,1168.2 526.3,1167.3 527.4,1166.7 528.5,1162.3 529.6,1163.2 530.7,1168.4 531.8,1168.0 532.9,1168.1 534.0,1171.0 535.1,1170.5 536.2,1177.9 537.3,1174.7 538.4,1173.7 539.5,1176.6 540.6,1179.3 541.7,1185.5 542.8,1180.6 543.9,1179.8 545.0,1189.8 546.1,1182.3 547.2,1187.4 548.3,1184.3 549.4,1184.8 550.5,1177.9 551.6,1183.0 552.7,1179.6 553.8,1176.9 554.9,1182.2 556.0,1180.1 557.1,1181.1 558.2,1184.5 559.3,1173.0 560.4,1182.4 561.5,1175.8 562.6,1175.3 563.7,1181.1 564.8,1178.8 565.9,1171.4 567.0,1178.2 568.1,1177.9 569.2,1180.1 570.3,1177.6 571.4,1171.9 572.5,1165.1 573.6,1169.5 574.7,1172.4 575.8,1174.9 576.9,1177.9 578.0,1177.0 579.1,1179.5 580.2,1177.2 581.3,1178.7 582.4,1182.5 583.5,1184.3 584.6,1177.0 585.7,1180.0 586.8,1181.0 587.9,1184.0 589.0,1181.1 590.1,1189.2 591.2,1179.8 592.3,1175.5 593.4,1176.5 594.5,1174.8 595.6,1176.3 596.7,1178.5 597.8,1183.9 598.9,1185.0 600.0,1183.3 601.1,1178.6 602.2,1184.9 603.3,1180.7 604.4,1183.3 605.5,1185.3 606.6,1183.3 607.7,1191.0 608.8,1183.4 609.9,1182.1 611.0,1182.6 612.1,1187.0 613.2,1177.9 614.3,1182.3 615.4,1180.0 616.5,1183.1 617.6,1177.6 618.7,1182.7 619.8,1186.6 620.9,1180.0 622.0,1186.1 623.1,1179.0 624.2,1180.4 625.3,1176.5 626.4,1182.4 627.5,1181.8 628.6,1180.0 629.7,1181.9 630.8,1175.6 631.9,1182.3 633.0,1174.7 634.1,1169.8 635.2,1171.3 636.3,1172.9 637.4,1170.4 638.5,1172.8 639.6,1184.6 640.7,1182.2 641.8,1185.2 642.9,1191.0 644.0,1185.3 645.1,1179.9 646.2,1185.5 647.3,1179.3 648.4,1185.6 649.5,1183.4 650.6,1185.1 651.7,1177.8 652.8,1174.5 653.9,1182.2 655.0,1183.6 656.1,1180.6 657.2,1178.2 658.3,1177.1 659.4,1175.4 660.5,1177.3 661.6,1168.3 662.7,1170.5 663.8,1171.9 664.9,1168.1 666.0,1165.2 667.1,1165.1 668.2,1168.6 669.3,1171.0 670.4,1164.4 671.5,1179.6 672.6,1174.7 673.7,1174.7 674.8,1171.9 675.9,1174.2 677.0,1180.6 678.1,1180.1 679.2,1172.5 680.3,1176.4 681.4,1179.3 682.5,1176.4 683.6,1186.3 684.7,1183.2 685.8,1176.5 686.9,1171.5 688.0,1176.6 689.1,1173.8 690.2,1172.8 691.3,1169.6 692.4,1176.0 693.5,1173.4 694.6,1177.8 695.7,1177.0 696.8,1173.1 697.9,1176.0 699.0,1174.3 700.1,1178.5 701.2,1176.1 702.3,1183.7 703.4,1175.2 704.5,1185.4 705.6,1184.9 706.7,1188.1 707.8,1182.0 708.9,1185.6 710.0,1186.6 711.1,1183.3 712.2,1183.6 713.3,1182.6 714.4,1181.1 715.5,1181.0 716.6,1177.7 717.7,1184.1 718.8,1183.5 719.9,1189.2 721.0,1180.6 722.1,1189.3 723.2,1187.8 724.3,1175.8 725.4,1183.9 726.5,1189.0 727.6,1184.0 728.7,1186.6 729.8,1187.3 730.9,1180.8 732.0,1184.6 733.1,1181.9 734.2,1185.9 735.3,1170.8 736.4,1175.0 737.5,1166.6 738.6,1161.7 739.7,1153.8 740.8,1145.1 741.9,1142.3 743.0,1151.3 744.1,1154.0 745.2,1167.9 746.3,1170.4 747.4,1168.7 748.5,1175.8 749.6,1177.5 750.7,1177.7 751.8,1173.7 752.9,1178.6 754.0,1186.3 755.1,1185.8 756.2,1175.5 757.3,1178.1 758.4,1177.0 759.5,1174.0 760.6,1174.5 761.7,1180.1 762.8,1185.8 763.9,1185.3 765.0,1186.8 766.1,1189.3 767.2,1179.7 768.3,1180.8 769.4,1175.5 770.5,1179.7 771.6,1182.3 772.7,1185.5 773.8,1177.8 774.9,1180.3 776.0,1182.8 777.1,1183.4 778.2,1179.2 779.3,1187.4 780.4,1184.3 781.5,1184.3 782.6,1183.3 783.7,1185.2 784.8,1183.6 785.9,1185.2 787.0,1189.9 788.1,1184.5 789.2,1185.3 790.3,1182.8 791.4,1176.2 792.5,1173.6 793.6,1181.3 794.7,1175.8 795.8,1177.2 796.9,1175.1 798.0,1172.9 799.1,1182.7 800.2,1188.1 801.3,1183.8 802.4,1174.9 803.5,1178.2 804.6,1181.5 805.7,1176.3 806.8,1179.7 807.9,1181.4 809.0,1186.8 810.1,1174.0 811.2,1179.9 812.3,1175.1 813.4,1171.0 814.5,1181.6 815.6,1172.4 816.7,1178.5 817.8,1183.0 818.9,1181.4 820.0,1180.2 821.1,1185.4 822.2,1179.8 823.3,1178.9 824.4,1185.8 825.5,1181.3 826.6,1177.9 827.7,1176.5 828.8,1179.1 829.9,1185.0 831.0,1179.2 832.1,1181.5 833.2,1185.9 834.3,1185.4 835.4,1174.6 836.5,1183.7 837.6,1169.7 838.7,1181.2 839.8,1174.2 840.9,1176.8 842.0,1177.6 843.1,1177.2 844.2,1179.5 845.3,1177.6 846.4,1185.5 847.5,1177.6 848.6,1174.5 849.7,1178.8 850.8,1175.8 851.9,1178.7 853.0,1177.5 854.1,1180.1 855.2,1181.9 856.3,1184.5 857.4,1186.6 858.5,1184.3 859.6,1181.0 860.7,1178.6 861.8,1175.8 862.9,1184.3 864.0,1176.7 865.1,1176.6 866.2,1178.5 867.3,1181.1 868.4,1184.3 869.5,1181.1 870.6,1175.0 871.7,1181.6 872.8,1178.7 873.9,1177.0 875.0,1182.6 876.1,1177.9 877.2,1178.2 878.3,1181.3 879.4,1180.2 880.5,1180.8 881.6,1179.9 882.7,1177.0 883.8,1177.2 884.9,1178.8 886.0,1179.5 887.1,1183.3 888.2,1175.5 889.3,1181.5 890.4,1172.6 891.5,1186.4 892.6,1184.9 893.7,1179.9 894.8,1180.2 895.9,1181.4 897.0,1178.3 898.1,1181.7 899.2,1183.5 900.3,1175.7 901.4,1179.1 902.5,1175.0 903.6,1183.0 904.7,1171.8 905.8,1175.8 906.9,1178.9 908.0,1178.8 909.1,1176.6 910.2,1180.9 911.3,1178.4 912.4,1182.9 913.5,1176.5 914.6,1180.3 915.7,1187.2 916.8,1189.0 917.9,1189.4 919.0,1180.1 920.1,1193.3 921.2,1182.4 922.3,1189.3 923.4,1182.2 924.5,1175.1 925.6,1181.1 926.7,1178.7 927.8,1181.7 928.9,1179.0 930.0,1182.7 931.1,1183.3 932.2,1179.8 933.3,1184.7 934.4,1180.4 935.5,1180.3 936.6,1178.0 937.7,1184.0 938.8,1181.0 939.9,1175.4 941.0,1178.2 942.1,1183.2 943.2,1183.0 944.3,1184.0 945.4,1182.1 946.5,1185.2 947.6,1185.1 948.7,1187.2 949.8,1182.0 950.9,1185.2 952.0,1174.5 953.1,1172.9 954.2,1171.8 955.3,1156.9 956.4,1157.7 957.5,1163.3 958.6,1159.5 959.7,1162.7 960.8,1175.4 961.9,1179.0 963.0,1178.6 964.1,1178.1 965.2,1183.8 966.3,1179.3 967.4,1187.0 968.5,1176.2 969.6,1175.5 970.7,1173.5 971.8,1178.5 972.9,1183.7 974.0,1179.5 975.1,1184.5 976.2,1182.5 977.3,1183.0 978.4,1183.6 979.5,1182.5 980.6,1180.6 981.7,1185.0 982.8,1184.5 983.9,1185.6 985.0,1182.0 986.1,1183.6 987.2,1178.8 988.3,1182.7 989.4,1175.7 990.5,1174.1 991.6,1182.2 992.7,1177.9 993.8,1179.7 994.9,1179.1 996.0,1180.0 997.1,1172.0 998.2,1178.6 999.3,1180.5 1000.4,1177.5 1001.5,1179.3 1002.6,1175.3 1003.7,1175.7 1004.8,1174.8 1005.9,1169.9 1007.0,1163.6 1008.1,1172.0 1009.2,1172.3 1010.3,1171.9 1011.4,1174.0 1012.5,1171.9 1013.6,1178.3 1014.7,1178.9 1015.8,1180.8 1016.9,1178.1 1018.0,1172.4 1019.1,1173.8 1020.2,1177.8 1021.3,1185.2 1022.4,1177.4 1023.5,1181.4 1024.6,1178.9 1025.7,1180.9 1026.8,1180.7 1027.9,1176.6 1029.0,1181.0 1030.1,1186.0 1031.2,1176.7 1032.3,1180.8 1033.4,1182.8 1034.5,1182.3 1035.6,1183.6 1036.7,1178.3 1037.8,1189.5 1038.9,1184.6 1040.0,1184.8 1041.1,1185.7 1042.2,1179.2 1043.3,1183.2 1044.4,1178.3 1045.5,1179.4 1046.6,1182.0 1047.7,1183.3 1048.8,1179.2 1049.9,1177.1 1051.0,1177.7 1052.1,1183.9 1053.2,1178.7 1054.3,1170.7 1055.4,1183.0 1056.5,1183.0 1057.6,1177.0 1058.7,1176.8 1059.8,1180.9 1060.9,1186.1 1062.0,1181.6 1063.1,1177.0 1064.2,1186.5 1065.3,1189.0 1066.4,1177.6 1067.5,1180.1 1068.6,1177.8 1069.7,1177.8 1070.8,1175.8 1071.9,1178.8 1073.0,1182.7 1074.1,1181.0 1075.2,1172.0 1076.3,1175.3 1077.4,1178.2 1078.5,1181.7 1079.6,1182.4 1080.7,1185.1 1081.8,1183.1 1082.9,1171.4 1084.0,1176.6 1085.1,1182.2 1086.2,1182.4 1087.3,1177.3 1088.4,1183.0 1089.5,1183.1 1090.6,1179.3 1091.7,1177.2 1092.8,1183.2 1093.9,1175.1 1095.0,1177.8 1096.1,1183.1 1097.2,1176.8 1098.3,1170.6 1099.4,1175.6 1100.5,1170.3 1101.6,1170.6 1102.7,1169.2 1103.8,1171.3 1104.9,1172.9 1106.0,1165.5 1107.1,1166.9 1108.2,1171.9 1109.3,1181.7 1110.4,1180.1 1111.5,1173.0 1112.6,1177.8 1113.7,1176.4 1114.8,1177.4 1115.9,1175.3 1117.0,1170.9 1118.1,1164.5 1119.2,1160.5 1120.3,1137.2 1121.4,1131.2 1122.5,1142.3 1123.6,1149.7 1124.7,1166.5 1125.8,1168.2 1126.9,1173.6 1128.0,1177.5 1129.1,1177.1 1130.2,1179.3 1131.3,1184.6 1132.4,1177.0 1133.5,1178.6 1134.6,1184.4 1135.7,1180.1 1136.8,1181.8 1137.9,1184.0 1139.0,1184.4 1140.1,1181.5 1141.2,1179.7 1142.3,1174.9 1143.4,1182.2 1144.5,1184.2 1145.6,1183.9 1146.7,1174.9 1147.8,1181.5 1148.9,1182.1 1150.0,1179.7 1151.1,1172.6 1152.2,1174.1 1153.3,1171.3 1154.4,1180.1 1155.5,1182.6 1156.6,1176.1 1157.7,1172.4 1158.8,1176.9 1159.9,1184.2 1161.0,1182.5 1162.1,1187.3 1163.2,1178.8 1164.3,1186.2 1165.4,1181.8 1166.5,1183.9 1167.6,1185.8 1168.7,1182.4 1169.8,1188.0 1170.9,1180.2 1172.0,1179.8 1173.1,1173.5 1174.2,1180.1 1175.3,1173.7 1176.4,1181.4 1177.5,1176.7 1178.6,1180.7 1179.7,1177.9 1180.8,1176.2 1181.9,1174.5 1183.0,1176.9 1184.1,1185.2 1185.2,1179.2 1186.3,1181.8 1187.4,1186.7 1188.5,1187.3 1189.6,1181.6 1190.7,1177.4 1191.8,1175.2 1192.9,1186.7 1194.0,1179.0 1195.1,1185.6 1196.2,1187.1 1197.3,1185.0 1198.4,1190.8 1199.5,1187.7 1200.6,1181.1 1201.7,1182.9 1202.8,1182.8 1203.9,1177.3 1205.0,1187.6 1206.1,1184.3 1207.2,1185.9 1208.3,1180.3 1209.4,1179.9 1210.5,1177.7 1211.6,1181.7 1212.7,1176.6 1213.8,1182.1 1214.9,1184.6 1216.0,1180.6 1217.1,1175.3 1218.2,1176.3 1219.3,1173.1 1220.4,1173.3 1221.5,1177.7 1222.6,1171.5 1223.7,1167.8 1224.8,1167.9 1225.9,1176.8 1227.0,1173.1 1228.1,1174.9 1229.2,1170.4 1230.3,1172.4 1231.4,1169.3 1232.5,1178.4 1233.6,1172.6 1234.7,1181.5 1235.8,1175.8 1236.9,1181.1 1238.0,1177.8 1239.1,1176.1 1240.2,1180.9 1241.3,1178.2 1242.4,1174.4 1243.5,1177.9 1244.6,1176.4 1245.7,1170.2 1246.8,1179.7 1247.9,1174.8 1249.0,1167.9 1250.1,1180.2 1251.2,1177.7 1252.3,1175.3 1253.4,1176.5 1254.5,1182.9 1255.6,1184.3 1256.7,1176.4 1257.8,1180.9 1258.9,1178.2 1260.0,1187.6 1261.1,1178.7 1262.2,1179.7 1263.3,1184.3 1264.4,1187.9 1265.5,1183.4 1266.6,1184.3 1267.7,1180.4 1268.8,1179.1 1269.9,1181.7 1271.0,1179.2 1272.1,1181.1 1273.2,1176.5 1274.3,1181.6 1275.4,1182.0 1276.5,1182.3 1277.6,1180.9 1278.7,1175.7 1279.8,1181.1 1280.9,1179.6 1282.0,1182.5 1283.1,1183.5 1284.2,1182.5 1285.3,1187.7 1286.4,1188.0 1287.5,1182.9 1288.6,1183.2 1289.7,1177.6 1290.8,1184.2 1291.9,1181.9 1293.0,1186.5 1294.1,1188.7 1295.2,1180.5 1296.3,1181.8 1297.4,1180.2 1298.5,1180.4 1299.6,1185.6 1300.7,1183.0 1301.8,1182.6 1302.9,1184.4 1304.0,1187.1 1305.1,1187.1 1306.2,1180.1 1307.3,1185.8 1308.4,1183.8 1309.5,1186.7 1310.6,1183.9 1311.7,1184.7 1312.8,1181.9 1313.9,1185.2 1315.0,1179.1 1316.1,1184.4 1317.2,1180.5 1318.3,1181.3 1319.4,1185.4 1320.5,1180.5 1321.6,1182.2 1322.7,1182.6 1323.8,1183.3 1324.9,1186.4 1326.0,1190.0 1327.1,1183.2 1328.2,1186.0 1329.3,1177.8 1330.4,1180.0 1331.5,1176.6 1332.6,1172.5 1333.7,1177.2 1334.8,1176.1 1335.9,1181.0 1337.0,1182.9 1338.1,1178.5 1339.2,1180.5 1340.3,1177.4 1341.4,1177.9 1342.5,1180.7 1343.6,1173.9 1344.7,1184.3 1345.8,1178.6 1346.9,1174.3 1348.0,1179.7 1349.1,1178.2 1350.2,1178.4 1351.3,1178.4 1352.4,1180.0 1353.5,1179.4 1354.6,1180.1 1355.7,1179.7 1356.8,1176.2 1357.9,1182.5 1359.0,1182.7 1360.1,1180.3 1361.2,1179.1 1362.3,1178.6 1363.4,1184.6 1364.5,1181.2 1365.6,1185.8 1366.7,1185.1 1367.8,1184.7 1368.9,1183.0 1370.0,1181.9 1371.1,1178.8 1372.2,1183.1 1373.3,1180.0 1374.4,1181.3 1375.5,1181.2 1376.6,1176.2 1377.7,1184.3 1378.8,1179.4 1379.9,1180.4 1381.0,1175.4 1382.1,1179.7 1383.2,1178.3 1384.3,1177.1 1385.4,1178.4 1386.5,1180.2 1387.6,1182.0 1388.7,1174.9 1389.8,1179.7 1390.9,1185.4 1392.0,1182.4 1393.1,1179.8 1394.2,1175.5 1395.3,1181.0 1396.4,1179.5 1397.5,1178.3 1398.6,1186.2 1399.7,1182.0 1400.8,1181.7 1401.9,1184.5 1403.0,1179.1 1404.1,1179.9 1405.2,1181.4 1406.3,1183.5 1407.4,1182.7 1408.5,1176.9 1409.6,1180.7 1410.7,1181.6 1411.8,1175.8 1412.9,1179.2 1414.0,1180.6 1415.1,1180.9 1416.2,1176.3 1417.3,1177.4 1418.4,1181.5 1419.5,1180.2 1420.6,1181.8 1421.7,1185.5 1422.8,1188.4 1423.9,1189.7 1425.0,1182.8 1426.1,1182.5 1427.2,1183.8 1428.3,1188.5 1429.4,1181.1 1430.5,1178.8 1431.6,1183.0 1432.7,1183.3 1433.8,1181.5 1434.9,1182.2 1436.0,1185.3 1437.1,1183.6 1438.2,1180.3 1439.3,1176.5 1440.4,1182.7 1441.5,1180.8 1442.6,1184.5 1443.7,1182.9 1444.8,1180.1 1445.9,1175.5 1447.0,1180.4 1448.1,1181.2 1449.2,1177.3 1450.3,1184.6 1451.4,1180.6 1452.5,1178.8 1453.6,1178.3 1454.7,1188.7 1455.8,1182.2 1456.9,1187.1 1458.0,1180.7 1459.1,1187.8 1460.2,1188.0 1461.3,1179.7 1462.4,1178.9 1463.5,1183.9 1464.6,1181.2 1465.7,1182.3 1466.8,1179.4 1467.9,1183.4 1469.0,1181.2 1470.1,1186.8 1471.2,1181.1 1472.3,1182.7 1473.4,1188.1 1474.5,1184.1 1475.6,1182.3 1476.7,1183.9 1477.8,1183.6 1478.9,1183.4 1480.0,1186.1 1481.1,1185.3 1482.2,1183.4 1483.3,1181.7 1484.4,1188.3 1485.5,1184.6 1486.6,1183.0 1487.7,1182.1 1488.8,1182.6 1489.9,1182.3 1491.0,1182.7 1492.1,1182.2 1493.2,1181.8 1494.3,1182.7 1495.4,1180.8 1496.5,1181.0 1497.6,1182.6 1498.7,1181.4 1499.8,1179.2 1500.9,1183.3 1502.0,1182.5 1503.1,1179.5 1504.2,1181.6 1505.3,1182.0 1506.4,1180.3 1507.5,1182.6 1508.6,1175.0 1509.7,1180.4 1510.8,1178.3 1511.9,1178.2 1513.0,1184.2 1514.1,1189.1 1515.2,1179.4 1516.3,1182.2 1517.4,1184.7 1518.5,1177.2 1519.6,1182.8 1520.7,1184.2 1521.8,1175.8 1522.9,1183.5 1524.0,1183.7 1525.1,1181.6 1526.2,1184.7 1527.3,1180.1 1528.4,1181.4 1529.5,1182.9 1530.6,1182.5 1531.7,1184.3 1532.8,1181.6 1533.9,1182.3 1535.0,1182.1 1536.1,1186.2 1537.2,1188.2 1538.3,1190.8 1539.4,1189.9 1540.5,1181.5 1541.6,1185.9 1542.7,1189.8 1543.8,1181.9 1544.9,1187.1 1546.0,1181.7 1547.1,1185.0 1548.2,1186.0 1549.3,1187.5 1550.4,1183.9 1551.5,1181.7 1552.6,1177.8 1553.7,1178.3 1554.8,1184.6 1555.9,1181.9 1557.0,1181.1 1558.1,1182.6 1559.2,1183.2 1560.3,1186.8 1561.4,1180.9 1562.5,1183.3 1563.6,1181.9 1564.7,1181.5 1565.8,1178.9 1566.9,1183.0 1568.0,1180.1 1569.1,1180.2 1570.2,1186.5 1571.3,1181.1 1572.4,1179.8 1573.5,1181.5 1574.6,1182.6 1575.7,1180.3 1576.8,1185.1 1577.9,1184.2 1579.0,1184.1 1580.1,1184.5 1581.2,1180.2 1582.3,1183.7 1583.4,1180.5 1584.5,1179.5 1585.6,1178.0 1586.7,1180.7 1587.8,1178.8 1588.9,1183.2 1590.0,1182.7 1591.1,1178.1 1592.2,1177.6 1593.3,1181.5 1594.4,1178.7 1595.5,1180.8 1596.6,1181.2 1597.7,1181.8 1598.8,1181.5 1599.9,1181.7 1601.0,1181.9 1602.1,1181.5 1603.2,1181.6 1604.3,1180.5 1605.4,1181.4 1606.5,1184.0 1607.6,1182.0 1608.7,1176.9 1609.8,1178.5 1610.9,1179.0 1612.0,1174.6 1613.1,1177.1 1614.2,1182.5 1615.3,1181.4 1616.4,1186.3 1617.5,1181.2 1618.6,1185.5 1619.7,1182.2 1620.8,1179.3 1621.9,1182.0 1623.0,1183.5 1624.1,1181.4 1625.2,1180.6 1626.3,1182.4 1627.4,1178.5 1628.5,1180.5 1629.6,1180.3 1630.7,1183.8 1631.8,1179.3 1632.9,1183.3 1634.0,1180.9 1635.1,1176.7 1636.2,1182.9 1637.3,1180.1 1638.4,1182.6 1639.5,1183.9 1640.6,1185.8 1641.7,1180.1 1642.8,1182.1 1643.9,1186.5 1645.0,1183.4 1646.1,1180.0 1647.2,1182.7 1648.3,1183.4 1649.4,1181.5 1650.5,1177.5 1651.6,1180.9 1652.7,1178.8 1653.8,1177.2 1654.9,1175.5 1656.0,1167.5 1657.1,1152.6 1658.2,1134.5 1659.3,1117.9 1660.4,1108.9 1661.5,1122.3 1662.6,1144.2 1663.7,1153.3 1664.8,1149.7 1665.9,1138.2 1667.0,1140.6 1668.1,1145.3 1669.2,1159.3 1670.3,1169.2 1671.4,1174.6 1672.5,1182.5 1673.6,1180.1 1674.7,1182.5 1675.8,1177.1 1676.9,1181.6 1678.0,1186.1 1679.1,1182.8 1680.2,1184.3 1681.3,1185.3 1682.4,1186.6 1683.5,1182.9 1684.6,1180.7 1685.7,1185.1 1686.8,1180.4 1687.9,1181.0 1689.0,1187.0 1690.1,1181.1 1691.2,1181.8 1692.3,1183.9 1693.4,1179.3 1694.5,1180.9 1695.6,1183.8 1696.7,1180.4 1697.8,1180.0 1698.9,1181.4 1700.0,1186.4 1701.1,1184.2 1702.2,1185.9 1703.3,1186.1 1704.4,1185.9 1705.5,1185.2 1706.6,1186.1 1707.7,1183.7 1708.8,1187.6 1709.9,1186.6 1711.0,1180.9 1712.1,1180.4 1713.2,1182.8 1714.3,1183.0 1715.4,1180.0 1716.5,1181.4 1717.6,1183.6 1718.7,1185.6 1719.8,1181.2 1720.9,1183.6 1722.0,1181.7 1723.1,1183.7 1724.2,1182.7 1725.3,1186.8 1726.4,1181.9 1727.5,1181.9 1728.6,1180.8 1729.7,1183.7 1730.8,1186.7 1731.9,1183.3 1733.0,1182.8 1734.1,1187.1 1735.2,1184.0 1736.3,1189.4 1737.4,1182.7 1738.5,1183.7 1739.6,1182.7 1740.7,1181.0 1741.8,1181.8 1742.9,1181.6 1744.0,1182.0 1745.1,1183.7 1746.2,1184.2 1747.3,1182.6 1748.4,1184.5 1749.5,1185.5 1750.6,1188.6 1751.7,1185.6 1752.8,1176.8 1753.9,1184.9 1755.0,1181.8 1756.1,1180.8 1757.2,1178.0 1758.3,1174.7 1759.4,1182.2 1760.5,1181.1 1761.6,1182.7 1762.7,1179.3 1763.8,1181.1 1764.9,1180.2 1766.0,1180.2 1767.1,1189.5 1768.2,1180.2 1769.3,1183.0 1770.4,1182.6 1771.5,1179.4 1772.6,1181.5 1773.7,1184.9 1774.8,1182.7 1775.9,1185.6 1777.0,1186.4 1778.1,1186.0 1779.2,1185.5 1780.3,1184.6 1781.4,1183.0 1782.5,1180.2 1783.6,1184.1 1784.7,1185.1 1785.8,1182.4 1786.9,1182.3 1788.0,1183.2 1789.1,1181.9 1790.2,1177.6 1791.3,1179.7 1792.4,1178.4 1793.5,1182.7 1794.6,1185.0 1795.7,1180.7 1796.8,1184.9 1797.9,1180.5 1799.0,1180.6 1800.1,1179.9 1801.2,1177.9 1802.3,1181.2 1803.4,1182.5 1804.5,1181.0 1805.6,1187.5 1806.7,1180.3 1807.8,1183.3 1808.9,1181.9 1810.0,1183.2 1811.1,1182.4 1812.2,1181.6 1813.3,1182.7 1814.4,1183.2 1815.5,1182.3 1816.6,1182.2 1817.7,1182.9 1818.8,1177.2 1819.9,1184.8 1821.0,1181.7 1822.1,1176.6 1823.2,1180.1 1824.3,1179.9 1825.4,1185.3 1826.5,1185.3 1827.6,1183.0 1828.7,1181.7 1829.8,1182.9 1830.9,1180.8 1832.0,1183.8 1833.1,1188.0 1834.2,1188.1 1835.3,1183.7 1836.4,1185.9 1837.5,1184.5 1838.6,1183.9 1839.7,1180.3 1840.8,1183.7 1841.9,1180.2 1843.0,1181.8 1844.1,1187.2 1845.2,1182.4 1846.3,1184.5 1847.4,1185.3 1848.5,1180.8 1849.6,1182.4 1850.7,1182.5 1851.8,1185.5 1852.9,1183.6 1854.0,1182.4 1855.1,1184.3 1856.2,1180.9 1857.3,1182.3 1858.4,1187.8 1859.5,1179.9 1860.6,1181.7 1861.7,1183.9 1862.8,1184.8 1863.9,1183.9 1865.0,1185.3 1866.1,1183.0 1867.2,1183.0 1868.3,1182.8 1869.4,1180.8 1870.5,1182.0 1871.6,1180.5 1872.7,1182.9 1873.8,1178.7 1874.9,1180.5 1876.0,1186.7 1877.1,1184.0 1878.2,1182.9 1879.3,1185.9 1880.4,1186.5 1881.5,1181.3 1882.6,1185.8 1883.7,1180.3 1884.8,1181.9 1885.9,1186.2 1887.0,1182.2 1888.1,1182.4 1889.2,1186.8 1890.3,1185.0 1891.4,1181.1 1892.5,1186.1 1893.6,1185.4 1894.7,1187.3 1895.8,1181.1 1896.9,1184.3 1898.0,1182.2 1899.1,1184.2 1900.2,1180.5 1901.3,1181.2 1902.4,1182.3 1903.5,1183.1 1904.6,1181.6 1905.7,1186.2 1906.8,1180.9 1907.9,1182.2 1909.0,1183.8 1910.1,1181.7 1911.2,1180.9 1912.3,1177.4 1913.4,1183.5 1914.5,1176.9 1915.6,1181.2 1916.7,1178.5 1917.8,1176.9 1918.9,1179.7 1920.0,1178.9 1921.1,1178.6 1922.2,1180.3 1923.3,1178.2 1924.4,1179.3 1925.5,1182.3 1926.6,1183.6 1927.7,1179.0 1928.8,1182.0 1929.9,1181.9 1931.0,1179.8 1932.1,1182.6 1933.2,1183.8 1934.3,1184.9 1935.4,1187.4 1936.5,1180.9 1937.6,1184.2 1938.7,1178.1 1939.8,1186.5 1940.9,1182.8 1942.0,1181.0 1943.1,1183.1 1944.2,1183.7 1945.3,1181.6 1946.4,1184.5 1947.5,1178.8 1948.6,1177.9 1949.7,1177.1 1950.8,1181.5 1951.9,1181.6 1953.0,1182.9 1954.1,1186.0 1955.2,1184.1 1956.3,1182.0 1957.4,1183.3 1958.5,1184.7 1959.6,1180.5 1960.7,1185.1 1961.8,1185.0 1962.9,1185.3 1964.0,1186.9 1965.1,1184.5 1966.2,1186.8 1967.3,1187.7 1968.4,1184.9 1969.5,1181.3 1970.6,1182.3 1971.7,1183.8 1972.8,1188.5 1973.9,1187.1 1975.0,1184.0 1976.1,1185.8 1977.2,1182.6 1978.3,1186.4 1979.4,1184.1 1980.5,1181.7 1981.6,1183.9 1982.7,1180.5 1983.8,1183.3 1984.9,1183.1 1986.0,1182.8 1987.1,1177.6 1988.2,1176.1 1989.3,1177.2 1990.4,1175.2 1991.5,1180.5 1992.6,1173.7 1993.7,1169.7 1994.8,1172.7 1995.9,1170.3 1997.0,1170.2 1998.1,1165.7 1999.2,1153.2 2000.3,1128.7 2001.4,1090.9 2002.5,1033.9 2003.6,987.7 2004.7,972.3 2005.8,1003.3 2006.9,1056.3 2008.0,1081.4 2009.1,1085.4 2010.2,1076.6 2011.3,1065.5 2012.4,1084.8 2013.5,1118.6 2014.6,1148.1 2015.7,1164.0 2016.8,1170.6 2017.9,1176.2 2019.0,1181.1 2020.1,1181.0 2021.2,1182.0 2022.3,1186.0 2023.4,1179.7 2024.5,1183.1 2025.6,1183.7 2026.7,1182.0 2027.8,1181.2 2028.9,1184.1 2030.0,1185.0 2031.1,1180.5 2032.2,1187.2 2033.3,1184.3 2034.4,1186.2 2035.5,1184.0 2036.6,1183.0 2037.7,1181.0 2038.8,1182.1 2039.9,1182.5 2041.0,1179.5 2042.1,1184.8 2043.2,1181.2 2044.3,1182.3 2045.4,1183.3 2046.5,1180.6 2047.6,1181.6 2048.7,1186.6 2049.8,1185.0 2050.9,1181.0 2052.0,1182.1 2053.1,1184.7 2054.2,1180.5 2055.3,1186.1 2056.4,1186.7 2057.5,1184.3 2058.6,1185.7 2059.7,1183.3 2060.8,1183.4 2061.9,1185.8 2063.0,1182.6 2064.1,1181.1 2065.2,1183.8 2066.3,1184.8 2067.4,1181.3 2068.5,1182.1 2069.6,1184.4 2070.7,1184.1 2071.8,1175.0 2072.9,1183.4 2074.0,1185.8 2075.1,1184.9 2076.2,1182.1 2077.3,1186.0 2078.4,1179.2 2079.5,1183.6 2080.6,1183.1 2081.7,1184.7 2082.8,1177.9 2083.9,1181.3 2085.0,1180.7 2086.1,1183.5 2087.2,1181.3 2088.3,1181.9 2089.4,1181.3 2090.5,1183.1 2091.6,1186.0 2092.7,1183.4 2093.8,1182.6 2094.9,1182.4 2096.0,1185.0 2097.1,1185.6 2098.2,1181.6 2099.3,1182.9 2100.4,1179.2 2101.5,1183.6 2102.6,1182.8 2103.7,1178.0 2104.8,1180.6 2105.9,1181.8 2107.0,1177.6 2108.1,1184.6 2109.2,1180.7 2110.3,1174.8 2111.4,1169.5 2112.5,1166.0 2113.6,1150.2 2114.7,1133.4 2115.8,1120.7 2116.9,1122.2 2118.0,1144.8 2119.1,1159.1 2120.2,1168.0 2121.3,1160.3 2122.4,1155.3 2123.5,1154.0 2124.6,1157.6 2125.7,1165.7 2126.8,1172.2 2127.9,1178.8 2129.0,1178.6 2130.1,1182.3 2131.2,1183.2 2132.3,1182.3 2133.4,1183.5 2134.5,1179.8 2135.6,1183.3 2136.7,1180.7 2137.8,1182.2 2138.9,1180.0 2140.0,1184.4 2141.1,1182.3 2142.2,1185.7 2143.3,1180.3 2144.4,1180.3 2145.5,1182.1 2146.6,1180.5 2147.7,1184.3 2148.8,1181.4 2149.9,1181.1 2151.0,1183.9 2152.1,1185.0 2153.2,1187.7 2154.3,1182.1 2155.4,1181.8 2156.5,1175.7 2157.6,1183.7 2158.7,1181.2 2159.8,1184.8 2160.9,1184.6 2162.0,1184.1 2163.1,1180.0 2164.2,1181.3 2165.3,1181.3 2166.4,1183.3 2167.5,1181.1 2168.6,1180.9 2169.7,1181.9 2170.8,1180.6 2171.9,1180.2 2173.0,1184.0 2174.1,1180.3 2175.2,1181.1 2176.3,1181.0 2177.4,1185.5 2178.5,1177.1 2179.6,1181.7 2180.7,1181.5 2181.8,1179.9 2182.9,1181.2 2184.0,1181.5 2185.1,1184.3 2186.2,1179.7 2187.3,1182.5 2188.4,1177.9 2189.5,1179.6 2190.6,1185.1 2191.7,1185.7 2192.8,1178.9 2193.9,1176.7 2195.0,1178.3 2196.1,1181.1 2197.2,1186.3 2198.3,1180.1 2199.4,1181.9 2200.5,1183.5 2201.6,1183.5 2202.7,1182.0 2203.8,1182.8 2204.9,1186.9 2206.0,1183.0 2207.1,1182.8 2208.2,1181.2 2209.3,1182.0 2210.4,1180.9 2211.5,1182.1 2212.6,1182.9 2213.7,1185.0 2214.8,1180.1 2215.9,1184.8 2217.0,1182.6 2218.1,1178.6 2219.2,1179.9 2220.3,1176.0 2221.4,1185.3 2222.5,1176.7 2223.6,1180.9 2224.7,1182.8 2225.8,1183.6 2226.9,1183.7 2228.0,1183.2 2229.1,1178.9 2230.2,1184.6 2231.3,1187.1 2232.4,1186.6 2233.5,1186.9 2234.6,1181.6 2235.7,1178.4 2236.8,1179.7 2237.9,1179.0 2239.0,1177.5 2240.1,1180.6 2241.2,1182.6 2242.3,1182.9 2243.4,1182.7 2244.5,1185.0 2245.6,1177.0 2246.7,1184.4 2247.8,1184.5 2248.9,1177.9 2250.0,1183.8 2251.1,1182.6 2252.2,1179.5 2253.3,1184.6 2254.4,1183.6 2255.5,1185.5 2256.6,1181.5 2257.7,1185.0 2258.8,1177.6 2259.9,1185.6 2261.0,1181.2 2262.1,1187.0 2263.2,1184.7 2264.3,1180.1 2265.4,1185.6 2266.5,1182.6 2267.6,1180.2 2268.7,1180.9 2269.8,1183.2 2270.9,1178.6 2272.0,1178.8 2273.1,1179.3 2274.2,1179.2 2275.3,1180.4 2276.4,1179.8 2277.5,1184.7 2278.6,1181.5 2279.7,1178.2 2280.8,1181.4 2281.9,1185.9 2283.0,1184.4 2284.1,1181.6 2285.2,1182.1 2286.3,1177.0 2287.4,1179.9 2288.5,1178.8 2289.6,1179.3 2290.7,1184.2 2291.8,1183.7 2292.9,1178.5 2294.0,1179.9 2295.1,1181.9 2296.2,1181.4 2297.3,1179.1 2298.4,1183.3 2299.5,1183.5 2300.6,1181.5 2301.7,1179.4 2302.8,1181.8 2303.9,1183.5 2305.0,1178.4 2306.1,1184.5 2307.2,1184.1 2308.3,1181.6 2309.4,1185.6 2310.5,1180.7 2311.6,1180.9 2312.7,1180.9 2313.8,1180.3 2314.9,1184.6 2316.0,1184.7 2317.1,1186.7 2318.2,1185.3 2319.3,1181.2 2320.4,1185.0 2321.5,1186.5 2322.6,1181.6 2323.7,1182.2 2324.8,1181.3 2325.9,1183.9 2327.0,1185.7 2328.1,1186.0 2329.2,1181.2 2330.3,1183.4 2331.4,1182.1 2332.5,1179.6 2333.6,1178.0 2334.7,1181.4 2335.8,1177.5 2336.9,1179.1 2338.0,1183.3 2339.1,1184.5 2340.2,1182.8 2341.3,1184.8 2342.4,1182.8 2343.5,1184.1 2344.6,1179.5 2345.7,1175.8 2346.8,1184.2 2347.9,1180.5" fill="none" stroke="#0000FF" stroke-width="8.0" stroke-linejoin="round" stroke-linecap="butt"/>
<polyline points="228.2,890.2 229.3,890.9 230.4,888.6 231.5,882.7 232.6,890.2 233.7,888.3 234.8,886.0 235.9,883.8 237.0,887.5 238.1,881.7 239.2,884.5 240.3,884.9 241.4,880.7 242.5,876.7 243.6,874.3 244.7,872.5 245.8,875.1 246.9,876.1 248.0,872.4 249.1,873.3 250.2,873.7 251.3,874.0 252.4,877.5 253.5,873.6 254.6,878.7 255.7,883.5 256.8,886.0 257.9,878.1 259.0,882.5 260.1,887.8 261.2,884.2 262.3,883.8 263.4,885.1 264.5,877.3 265.6,881.9 266.7,886.5 267.8,878.8 268.9,885.8 270.0,880.8 271.1,881.9 272.2,881.4 273.3,882.9 274.4,881.6 275.5,877.2 276.6,888.7 277.7,883.3 278.8,887.9 279.9,886.5 281.0,889.3 282.1,882.4 283.2,881.4 284.3,883.9 285.4,885.1 286.5,883.4 287.6,880.0 288.7,890.1 289.8,885.3 290.9,892.4 292.0,887.0 293.1,892.0 294.2,885.2 295.3,886.4 296.4,888.9 297.5,889.7 298.6,892.7 299.7,895.9 300.8,886.7 301.9,883.5 303.0,876.3 304.1,870.1 305.2,863.2 306.3,869.2 307.4,877.9 308.5,878.9 309.6,886.3 310.7,890.2 311.8,879.4 312.9,881.9 314.0,892.6 315.1,884.6 316.2,890.4 317.3,885.8 318.4,886.9 319.5,891.7 320.6,890.6 321.7,891.2 322.8,889.3 323.9,890.0 325.0,886.4 326.1,882.4 327.2,891.5 328.3,885.5 329.4,882.5 330.5,884.7 331.6,883.2 332.7,884.4 333.8,883.3 334.9,885.9 336.0,888.2 337.1,879.7 338.2,887.9 339.3,888.8 340.4,885.1 341.5,892.6 342.6,884.9 343.7,888.8 344.8,885.6 345.9,885.4 347.0,887.9 348.1,889.0 349.2,892.2 350.3,887.8 351.4,891.0 352.5,887.1 353.6,887.2 354.7,883.7 355.8,886.6 356.9,894.1 358.0,902.9 359.1,890.4 360.2,891.9 361.3,884.4 362.4,890.5 363.5,888.1 364.6,886.0 365.7,891.5 366.8,883.1 367.9,884.3 369.0,890.7 370.1,888.4 371.2,886.4 372.3,887.0 373.4,888.2 374.5,887.4 375.6,884.8 376.7,882.8 377.8,879.5 378.9,888.7 380.0,887.1 381.1,879.9 382.2,880.6 383.3,880.1 384.4,881.7 385.5,884.3 386.6,883.7 387.7,883.8 388.8,886.2 389.9,880.4 391.0,879.8 392.1,880.7 393.2,879.3 394.3,880.8 395.4,887.3 396.5,879.9 397.6,881.9 398.7,883.3 399.8,881.4 400.9,883.0 402.0,882.3 403.1,880.4 404.2,878.6 405.3,880.5 406.4,882.2 407.5,888.3 408.6,884.6 409.7,886.0 410.8,884.5 411.9,881.1 413.0,879.2 414.1,881.7 415.2,881.4 416.3,882.8 417.4,882.3 418.5,879.8 419.6,872.1 420.7,879.0 421.8,874.2 422.9,871.7 424.0,879.0 425.1,880.6 426.2,874.4 427.3,874.7 428.4,873.8 429.5,876.4 430.6,874.0 431.7,869.6 432.8,874.9 433.9,877.0 435.0,877.8 436.1,875.7 437.2,878.0 438.3,875.3 439.4,877.5 440.5,876.3 441.6,875.3 442.7,885.1 443.8,883.8 444.9,881.8 446.0,883.0 447.1,883.9 448.2,879.1 449.3,883.2 450.4,883.2 451.5,881.5 452.6,884.5 453.7,881.3 454.8,876.9 455.9,884.4 457.0,885.4 458.1,884.0 459.2,881.3 460.3,881.0 461.4,885.7 462.5,880.2 463.6,884.2 464.7,886.9 465.8,887.2 466.9,890.6 468.0,890.4 469.1,891.0 470.2,889.7 471.3,888.0 472.4,889.8 473.5,884.5 474.6,883.0 475.7,889.8 476.8,885.8 477.9,880.2 479.0,883.4 480.1,886.2 481.2,883.2 482.3,880.9 483.4,880.6 484.5,879.3 485.6,882.6 486.7,882.4 487.8,885.6 488.9,884.3 490.0,884.6 491.1,882.1 492.2,885.8 493.3,885.7 494.4,886.7 495.5,888.2 496.6,889.2 497.7,889.2 498.8,885.3 499.9,885.2 501.0,887.0 502.1,888.1 503.2,889.5 504.3,888.7 505.4,889.9 506.5,884.7 507.6,885.6 508.7,887.7 509.8,892.5 510.9,895.4 512.0,888.9 513.1,883.2 514.2,886.6 515.3,889.7 516.4,886.8 517.5,885.7 518.6,884.0 519.7,887.5 520.8,887.6 521.9,886.9 523.0,883.2 524.1,890.6 525.2,888.0 526.3,886.3 527.4,887.0 528.5,888.7 529.6,886.3 530.7,887.2 531.8,887.2 532.9,885.5 534.0,886.2 535.1,886.1 536.2,895.3 537.3,886.8 538.4,884.5 539.5,888.9 540.6,891.5 541.7,880.5 542.8,888.6 543.9,887.1 545.0,885.3 546.1,886.4 547.2,886.2 548.3,894.2 549.4,888.1 550.5,895.0 551.6,889.3 552.7,889.5 553.8,889.7 554.9,889.5 556.0,889.2 557.1,889.8 558.2,891.4 559.3,885.7 560.4,882.7 561.5,886.9 562.6,885.1 563.7,885.7 564.8,885.8 565.9,884.8 567.0,887.1 568.1,889.6 569.2,886.5 570.3,887.6 571.4,889.4 572.5,879.7 573.6,885.3 574.7,879.6 575.8,880.7 576.9,883.8 578.0,882.4 579.1,882.1 580.2,889.5 581.3,880.7 582.4,885.5 583.5,887.7 584.6,883.2 585.7,884.8 586.8,884.7 587.9,886.4 589.0,892.7 590.1,887.5 591.2,886.6 592.3,878.1 593.4,887.2 594.5,886.8 595.6,884.3 596.7,887.2 597.8,882.1 598.9,882.3 600.0,885.1 601.1,879.9 602.2,880.9 603.3,878.1 604.4,888.8 605.5,881.5 606.6,885.8 607.7,880.4 608.8,889.6 609.9,884.9 611.0,880.6 612.1,885.4 613.2,888.2 614.3,884.3 615.4,885.9 616.5,886.6 617.6,888.4 618.7,889.6 619.8,883.1 620.9,886.3 622.0,888.0 623.1,882.9 624.2,890.1 625.3,888.8 626.4,889.5 627.5,882.5 628.6,884.8 629.7,883.2 630.8,888.4 631.9,882.2 633.0,883.5 634.1,884.8 635.2,886.0 636.3,878.1 637.4,880.6 638.5,887.0 639.6,882.7 640.7,883.0 641.8,886.9 642.9,885.6 644.0,887.5 645.1,884.8 646.2,888.1 647.3,881.8 648.4,883.9 649.5,885.6 650.6,885.8 651.7,881.6 652.8,886.0 653.9,886.2 655.0,888.6 656.1,889.7 657.2,885.3 658.3,880.1 659.4,891.1 660.5,890.1 661.6,885.1 662.7,882.0 663.8,878.7 664.9,874.6 666.0,878.1 667.1,883.3 668.2,877.9 669.3,884.9 670.4,883.0 671.5,879.0 672.6,888.5 673.7,880.5 674.8,884.8 675.9,884.7 677.0,883.9 678.1,880.5 679.2,884.1 680.3,884.6 681.4,880.9 682.5,886.3 683.6,881.6 684.7,880.4 685.8,891.3 686.9,883.9 688.0,888.7 689.1,879.7 690.2,886.6 691.3,884.3 692.4,880.3 693.5,880.0 694.6,882.8 695.7,880.8 696.8,884.9 697.9,884.5 699.0,883.1 700.1,885.1 701.2,885.7 702.3,881.4 703.4,886.3 704.5,885.5 705.6,884.6 706.7,883.5 707.8,882.1 708.9,877.3 710.0,881.0 711.1,887.6 712.2,878.4 713.3,882.5 714.4,878.1 715.5,879.4 716.6,876.9 717.7,876.0 718.8,873.6 719.9,869.6 721.0,876.7 722.1,871.9 723.2,872.1 724.3,868.3 725.4,868.7 726.5,866.7 727.6,866.6 728.7,870.7 729.8,869.1 730.9,876.7 732.0,876.9 733.1,872.7 734.2,869.5 735.3,868.2 736.4,866.5 737.5,872.5 738.6,870.9 739.7,863.4 740.8,875.5 741.9,875.8 743.0,877.1 744.1,880.9 745.2,881.5 746.3,879.5 747.4,874.2 748.5,882.0 749.6,884.1 750.7,885.3 751.8,877.6 752.9,881.7 754.0,882.9 755.1,880.8 756.2,878.4 757.3,884.8 758.4,882.0 759.5,882.7 760.6,882.8 761.7,885.2 762.8,881.9 763.9,880.8 765.0,882.2 766.1,883.7 767.2,882.5 768.3,881.9 769.4,883.2 770.5,883.0 771.6,880.1 772.7,881.2 773.8,881.2 774.9,884.2 776.0,883.9 777.1,885.2 778.2,882.0 779.3,884.9 780.4,884.5 781.5,884.1 782.6,883.6 783.7,881.1 784.8,881.5 785.9,885.3 787.0,880.4 788.1,881.8 789.2,881.8 790.3,880.8 791.4,880.1 792.5,877.7 793.6,880.1 794.7,880.6 795.8,880.1 796.9,882.7 798.0,879.8 799.1,878.7 800.2,881.4 801.3,880.8 802.4,881.3 803.5,883.5 804.6,878.0 805.7,878.4 806.8,877.3 807.9,878.7 809.0,874.7 810.1,877.2 811.2,876.6 812.3,872.1 813.4,871.7 814.5,868.7 815.6,865.7 816.7,863.8 817.8,859.4 818.9,860.7 820.0,864.3 821.1,861.2 822.2,861.6 823.3,860.2 824.4,859.6 825.5,861.1 826.6,859.9 827.7,860.3 828.8,861.6 829.9,866.7 831.0,865.1 832.1,870.1 833.2,867.4 834.3,873.4 835.4,874.0 836.5,875.3 837.6,877.0 838.7,876.9 839.8,877.3 840.9,876.6 842.0,882.0 843.1,879.2 844.2,879.8 845.3,879.7 846.4,883.7 847.5,884.7 848.6,881.3 849.7,882.4 850.8,879.8 851.9,882.7 853.0,883.3 854.1,883.7 855.2,882.7 856.3,882.9 857.4,886.5 858.5,879.5 859.6,883.3 860.7,882.4 861.8,880.3 862.9,882.1 864.0,880.0 865.1,878.7 866.2,880.5 867.3,879.6 868.4,879.4 869.5,876.6 870.6,882.7 871.7,880.2 872.8,879.9 873.9,878.2 875.0,879.8 876.1,877.4 877.2,879.4 878.3,879.4 879.4,880.9 880.5,881.4 881.6,880.2 882.7,878.6 883.8,876.7 884.9,878.6 886.0,879.2 887.1,879.4 888.2,875.6 889.3,876.2 890.4,874.9 891.5,876.3 892.6,875.1 893.7,875.0 894.8,872.2 895.9,873.6 897.0,875.9 898.1,871.9 899.2,872.5 900.3,870.4 901.4,868.5 902.5,866.3 903.6,864.7 904.7,859.1 905.8,860.6 906.9,860.9 908.0,859.5 909.1,851.5 910.2,847.8 911.3,846.8 912.4,847.8 913.5,844.7 914.6,841.5 915.7,839.2 916.8,834.4 917.9,839.9 919.0,846.2 920.1,852.6 921.2,853.2 922.3,857.2 923.4,866.7 924.5,867.3 925.6,868.3 926.7,867.2 927.8,876.2 928.9,875.8 930.0,877.1 931.1,876.6 932.2,876.9 933.3,877.7 934.4,882.1 935.5,882.0 936.6,881.2 937.7,881.3 938.8,880.2 939.9,883.3 941.0,882.5 942.1,882.7 943.2,880.4 944.3,882.2 945.4,882.9 946.5,881.2 947.6,880.3 948.7,882.0 949.8,881.7 950.9,882.1 952.0,881.6 953.1,884.5 954.2,883.0 955.3,880.0 956.4,879.7 957.5,880.0 958.6,881.7 959.7,879.5 960.8,883.4 961.9,887.3 963.0,884.9 964.1,884.0 965.2,884.8 966.3,881.8 967.4,884.3 968.5,885.5 969.6,885.6 970.7,884.1 971.8,884.4 972.9,885.0 974.0,881.7 975.1,884.7 976.2,882.3 977.3,883.8 978.4,883.9 979.5,881.9 980.6,881.7 981.7,884.2 982.8,883.5 983.9,883.7 985.0,885.1 986.1,880.7 987.2,884.3 988.3,881.5 989.4,882.1 990.5,877.9 991.6,883.4 992.7,882.8 993.8,881.9 994.9,881.1 996.0,879.3 997.1,875.8 998.2,881.0 999.3,883.4 1000.4,880.3 1001.5,881.1 1002.6,880.5 1003.7,884.3 1004.8,883.5 1005.9,879.3 1007.0,882.3 1008.1,882.5 1009.2,883.3 1010.3,881.1 1011.4,881.5 1012.5,882.5 1013.6,884.4 1014.7,882.6 1015.8,884.9 1016.9,881.8 1018.0,882.9 1019.1,881.2 1020.2,884.1 1021.3,878.6 1022.4,882.2 1023.5,882.8 1024.6,881.1 1025.7,881.6 1026.8,884.3 1027.9,883.1 1029.0,885.3 1030.1,884.1 1031.2,881.9 1032.3,887.0 1033.4,881.7 1034.5,882.3 1035.6,881.5 1036.7,882.6 1037.8,883.5 1038.9,884.5 1040.0,879.2 1041.1,881.9 1042.2,882.3 1043.3,880.4 1044.4,882.5 1045.5,881.0 1046.6,881.8 1047.7,880.9 1048.8,882.5 1049.9,883.0 1051.0,886.8 1052.1,880.0 1053.2,880.3 1054.3,881.0 1055.4,880.8 1056.5,880.6 1057.6,882.3 1058.7,881.7 1059.8,881.5 1060.9,877.5 1062.0,880.5 1063.1,882.1 1064.2,883.2 1065.3,882.8 1066.4,881.9 1067.5,878.5 1068.6,879.7 1069.7,881.3 1070.8,882.0 1071.9,881.8 1073.0,881.2 1074.1,880.1 1075.2,881.8 1076.3,881.4 1077.4,881.7 1078.5,881.6 1079.6,881.3 1080.7,882.4 1081.8,881.5 1082.9,880.5 1084.0,879.8 1085.1,878.5 1086.2,878.0 1087.3,879.3 1088.4,876.4 1089.5,881.9 1090.6,876.8 1091.7,878.0 1092.8,875.7 1093.9,875.3 1095.0,878.9 1096.1,879.7 1097.2,882.2 1098.3,881.6 1099.4,877.8 1100.5,877.9 1101.6,876.2 1102.7,876.9 1103.8,878.4 1104.9,877.0 1106.0,880.0 1107.1,875.5 1108.2,878.1 1109.3,878.5 1110.4,877.5 1111.5,876.6 1112.6,876.2 1113.7,877.6 1114.8,876.4 1115.9,876.1 1117.0,874.3 1118.1,873.7 1119.2,875.5 1120.3,873.4 1121.4,874.0 1122.5,873.6 1123.6,874.8 1124.7,873.9 1125.8,876.7 1126.9,873.5 1128.0,875.6 1129.1,877.8 1130.2,877.2 1131.3,874.6 1132.4,876.8 1133.5,874.6 1134.6,873.7 1135.7,873.8 1136.8,876.2 1137.9,875.2 1139.0,871.4 1140.1,876.0 1141.2,874.3 1142.3,872.8 1143.4,878.0 1144.5,873.2 1145.6,872.2 1146.7,872.8 1147.8,873.9 1148.9,877.4 1150.0,872.4 1151.1,876.2 1152.2,873.9 1153.3,876.1 1154.4,872.8 1155.5,877.0 1156.6,873.5 1157.7,876.2 1158.8,872.8 1159.9,876.4 1161.0,876.7 1162.1,875.4 1163.2,877.7 1164.3,878.9 1165.4,877.1 1166.5,880.1 1167.6,877.9 1168.7,879.9 1169.8,876.7 1170.9,875.2 1172.0,876.9 1173.1,877.5 1174.2,879.9 1175.3,883.0 1176.4,880.1 1177.5,880.1 1178.6,878.8 1179.7,878.9 1180.8,880.2 1181.9,879.6 1183.0,882.4 1184.1,880.9 1185.2,880.3 1186.3,881.8 1187.4,882.4 1188.5,881.9 1189.6,880.5 1190.7,883.8 1191.8,884.6 1192.9,879.0 1194.0,879.4 1195.1,882.6 1196.2,877.1 1197.3,882.0 1198.4,878.2 1199.5,881.7 1200.6,881.5 1201.7,880.4 1202.8,880.8 1203.9,880.1 1205.0,883.9 1206.1,882.9 1207.2,881.2 1208.3,880.6 1209.4,883.5 1210.5,882.2 1211.6,881.9 1212.7,882.0 1213.8,879.9 1214.9,885.1 1216.0,884.0 1217.1,882.2 1218.2,881.9 1219.3,882.0 1220.4,878.6 1221.5,878.8 1222.6,879.7 1223.7,882.0 1224.8,881.5 1225.9,882.1 1227.0,883.3 1228.1,881.2 1229.2,880.1 1230.3,884.8 1231.4,881.0 1232.5,881.1 1233.6,885.8 1234.7,882.6 1235.8,879.5 1236.9,881.1 1238.0,882.9 1239.1,879.4 1240.2,881.5 1241.3,880.0 1242.4,881.7 1243.5,881.4 1244.6,877.0 1245.7,879.6 1246.8,880.3 1247.9,877.8 1249.0,880.5 1250.1,881.6 1251.2,880.4 1252.3,878.7 1253.4,879.3 1254.5,882.3 1255.6,879.6 1256.7,877.8 1257.8,880.6 1258.9,881.0 1260.0,878.8 1261.1,877.0 1262.2,877.9 1263.3,878.7 1264.4,877.7 1265.5,877.9 1266.6,875.3 1267.7,877.9 1268.8,879.4 1269.9,878.4 1271.0,879.0 1272.1,877.6 1273.2,874.4 1274.3,874.9 1275.4,876.8 1276.5,873.2 1277.6,874.1 1278.7,870.8 1279.8,867.4 1280.9,872.4 1282.0,870.2 1283.1,876.5 1284.2,873.9 1285.3,874.7 1286.4,871.2 1287.5,871.9 1288.6,870.5 1289.7,871.9 1290.8,870.8 1291.9,870.4 1293.0,873.4 1294.1,871.0 1295.2,873.2 1296.3,872.6 1297.4,871.6 1298.5,873.6 1299.6,871.7 1300.7,872.3 1301.8,871.0 1302.9,870.8 1304.0,872.4 1305.1,872.1 1306.2,870.9 1307.3,869.8 1308.4,872.0 1309.5,873.0 1310.6,873.0 1311.7,870.6 1312.8,872.4 1313.9,873.1 1315.0,872.7 1316.1,873.5 1317.2,873.6 1318.3,872.9 1319.4,871.2 1320.5,874.2 1321.6,873.4 1322.7,873.3 1323.8,873.8 1324.9,874.9 1326.0,876.3 1327.1,875.6 1328.2,874.1 1329.3,875.6 1330.4,874.5 1331.5,877.6 1332.6,877.8 1333.7,876.8 1334.8,875.4 1335.9,876.6 1337.0,878.4 1338.1,876.1 1339.2,877.8 1340.3,876.0 1341.4,878.0 1342.5,874.3 1343.6,879.0 1344.7,876.9 1345.8,877.6 1346.9,881.5 1348.0,879.4 1349.1,874.8 1350.2,877.9 1351.3,879.0 1352.4,875.9 1353.5,880.8 1354.6,881.4 1355.7,877.4 1356.8,879.9 1357.9,878.8 1359.0,880.6 1360.1,880.6 1361.2,878.7 1362.3,880.0 1363.4,880.3 1364.5,881.8 1365.6,878.5 1366.7,878.6 1367.8,884.4 1368.9,878.9 1370.0,881.2 1371.1,879.0 1372.2,880.1 1373.3,883.5 1374.4,880.5 1375.5,882.2 1376.6,880.3 1377.7,878.7 1378.8,880.3 1379.9,877.7 1381.0,878.5 1382.1,877.7 1383.2,877.4 1384.3,877.1 1385.4,878.6 1386.5,876.9 1387.6,879.9 1388.7,880.7 1389.8,881.1 1390.9,880.8 1392.0,879.4 1393.1,880.0 1394.2,876.7 1395.3,877.2 1396.4,876.7 1397.5,879.6 1398.6,876.7 1399.7,878.2 1400.8,882.3 1401.9,878.3 1403.0,878.5 1404.1,880.9 1405.2,881.3 1406.3,879.1 1407.4,878.3 1408.5,883.0 1409.6,877.1 1410.7,877.7 1411.8,882.3 1412.9,881.1 1414.0,881.2 1415.1,882.7 1416.2,880.2 1417.3,875.9 1418.4,878.8 1419.5,880.9 1420.6,880.7 1421.7,881.4 1422.8,878.7 1423.9,884.7 1425.0,881.3 1426.1,882.5 1427.2,882.8 1428.3,882.9 1429.4,882.9 1430.5,881.4 1431.6,884.7 1432.7,880.7 1433.8,882.2 1434.9,880.4 1436.0,882.6 1437.1,883.4 1438.2,884.3 1439.3,883.7 1440.4,881.3 1441.5,883.2 1442.6,882.7 1443.7,880.1 1444.8,881.8 1445.9,886.7 1447.0,884.2 1448.1,882.0 1449.2,885.1 1450.3,884.9 1451.4,882.3 1452.5,883.3 1453.6,882.6 1454.7,878.4 1455.8,880.3 1456.9,880.7 1458.0,878.5 1459.1,881.4 1460.2,877.8 1461.3,879.6 1462.4,879.2 1463.5,878.0 1464.6,882.4 1465.7,881.8 1466.8,881.3 1467.9,875.9 1469.0,878.7 1470.1,877.7 1471.2,877.9 1472.3,879.1 1473.4,879.2 1474.5,881.2 1475.6,877.3 1476.7,873.8 1477.8,872.8 1478.9,877.1 1480.0,878.4 1481.1,875.6 1482.2,876.7 1483.3,875.4 1484.4,872.2 1485.5,872.6 1486.6,870.9 1487.7,873.0 1488.8,871.5 1489.9,868.3 1491.0,868.4 1492.1,870.0 1493.2,867.7 1494.3,865.0 1495.4,868.8 1496.5,862.6 1497.6,864.1 1498.7,869.3 1499.8,864.6 1500.9,865.3 1502.0,866.5 1503.1,860.7 1504.2,863.1 1505.3,860.4 1506.4,863.9 1507.5,863.0 1508.6,863.2 1509.7,862.0 1510.8,866.2 1511.9,862.5 1513.0,866.5 1514.1,860.3 1515.2,868.2 1516.3,865.4 1517.4,864.3 1518.5,867.6 1519.6,865.7 1520.7,864.3 1521.8,867.7 1522.9,866.6 1524.0,865.1 1525.1,868.0 1526.2,866.1 1527.3,868.3 1528.4,865.2 1529.5,867.8 1530.6,865.3 1531.7,869.4 1532.8,872.2 1533.9,870.7 1535.0,870.8 1536.1,866.8 1537.2,867.6 1538.3,867.1 1539.4,866.5 1540.5,867.8 1541.6,865.8 1542.7,864.1 1543.8,859.0 1544.9,852.5 1546.0,855.7 1547.1,853.0 1548.2,849.6 1549.3,846.9 1550.4,851.0 1551.5,850.6 1552.6,850.6 1553.7,851.4 1554.8,853.8 1555.9,859.9 1557.0,854.5 1558.1,859.4 1559.2,858.4 1560.3,861.3 1561.4,862.1 1562.5,867.4 1563.6,863.6 1564.7,867.0 1565.8,870.9 1566.9,867.6 1568.0,868.9 1569.1,870.5 1570.2,869.3 1571.3,871.7 1572.4,871.1 1573.5,873.4 1574.6,873.5 1575.7,873.7 1576.8,873.3 1577.9,876.2 1579.0,874.2 1580.1,875.6 1581.2,879.1 1582.3,877.4 1583.4,876.7 1584.5,878.0 1585.6,880.1 1586.7,879.6 1587.8,876.4 1588.9,875.9 1590.0,876.0 1591.1,875.4 1592.2,878.9 1593.3,879.4 1594.4,880.3 1595.5,879.0 1596.6,874.3 1597.7,876.9 1598.8,878.2 1599.9,879.0 1601.0,876.7 1602.1,878.0 1603.2,878.0 1604.3,882.1 1605.4,878.6 1606.5,879.5 1607.6,879.3 1608.7,879.7 1609.8,879.0 1610.9,880.3 1612.0,876.4 1613.1,877.9 1614.2,880.0 1615.3,881.4 1616.4,879.9 1617.5,878.9 1618.6,879.3 1619.7,881.7 1620.8,878.4 1621.9,881.5 1623.0,880.7 1624.1,881.9 1625.2,881.9 1626.3,881.2 1627.4,881.1 1628.5,878.2 1629.6,883.3 1630.7,881.3 1631.8,881.0 1632.9,884.8 1634.0,882.9 1635.1,880.1 1636.2,876.0 1637.3,878.3 1638.4,881.9 1639.5,880.0 1640.6,879.6 1641.7,879.4 1642.8,874.9 1643.9,879.1 1645.0,878.8 1646.1,878.4 1647.2,877.5 1648.3,876.8 1649.4,875.2 1650.5,872.0 1651.6,873.8 1652.7,864.0 1653.8,856.5 1654.9,837.7 1656.0,808.7 1657.1,777.1 1658.2,767.9 1659.3,785.9 1660.4,809.8 1661.5,824.2 1662.6,813.4 1663.7,805.3 1664.8,803.3 1665.9,820.3 1667.0,840.9 1668.1,857.1 1669.2,864.1 1670.3,871.2 1671.4,872.9 1672.5,871.4 1673.6,872.8 1674.7,870.2 1675.8,873.9 1676.9,875.1 1678.0,876.7 1679.1,873.8 1680.2,876.8 1681.3,875.9 1682.4,883.1 1683.5,877.5 1684.6,877.8 1685.7,879.9 1686.8,875.3 1687.9,878.6 1689.0,880.0 1690.1,878.7 1691.2,878.2 1692.3,878.3 1693.4,882.2 1694.5,877.1 1695.6,879.2 1696.7,876.2 1697.8,878.1 1698.9,879.0 1700.0,877.3 1701.1,877.7 1702.2,878.9 1703.3,878.2 1704.4,878.0 1705.5,879.7 1706.6,879.6 1707.7,880.6 1708.8,880.9 1709.9,878.6 1711.0,882.3 1712.1,883.4 1713.2,879.9 1714.3,882.0 1715.4,883.2 1716.5,881.4 1717.6,884.2 1718.7,879.2 1719.8,883.6 1720.9,881.6 1722.0,877.5 1723.1,882.0 1724.2,881.8 1725.3,885.6 1726.4,882.0 1727.5,886.6 1728.6,881.6 1729.7,883.6 1730.8,880.4 1731.9,884.6 1733.0,882.7 1734.1,886.2 1735.2,880.2 1736.3,881.0 1737.4,880.5 1738.5,886.8 1739.6,879.2 1740.7,879.6 1741.8,887.6 1742.9,883.3 1744.0,886.0 1745.1,884.6 1746.2,884.2 1747.3,882.0 1748.4,880.1 1749.5,883.9 1750.6,887.5 1751.7,879.1 1752.8,882.7 1753.9,885.1 1755.0,886.0 1756.1,882.9 1757.2,884.9 1758.3,886.1 1759.4,880.7 1760.5,882.7 1761.6,880.4 1762.7,880.2 1763.8,886.4 1764.9,884.6 1766.0,882.8 1767.1,880.1 1768.2,885.1 1769.3,882.1 1770.4,881.8 1771.5,882.4 1772.6,884.5 1773.7,884.3 1774.8,883.1 1775.9,878.4 1777.0,880.6 1778.1,880.5 1779.2,882.9 1780.3,882.1 1781.4,879.7 1782.5,882.0 1783.6,881.9 1784.7,884.5 1785.8,881.2 1786.9,882.7 1788.0,882.6 1789.1,881.3 1790.2,888.8 1791.3,881.7 1792.4,882.6 1793.5,882.3 1794.6,882.5 1795.7,880.1 1796.8,882.5 1797.9,885.0 1799.0,884.7 1800.1,883.8 1801.2,886.6 1802.3,883.7 1803.4,880.5 1804.5,884.9 1805.6,882.6 1806.7,885.7 1807.8,887.5 1808.9,885.0 1810.0,888.6 1811.1,885.7 1812.2,883.5 1813.3,886.2 1814.4,884.1 1815.5,884.1 1816.6,881.9 1817.7,883.4 1818.8,880.1 1819.9,882.0 1821.0,878.3 1822.1,881.9 1823.2,879.2 1824.3,882.5 1825.4,883.3 1826.5,880.5 1827.6,884.7 1828.7,880.3 1829.8,880.8 1830.9,886.2 1832.0,882.2 1833.1,883.2 1834.2,884.8 1835.3,883.8 1836.4,883.7 1837.5,883.1 1838.6,884.5 1839.7,884.6 1840.8,884.0 1841.9,883.1 1843.0,881.8 1844.1,887.0 1845.2,882.3 1846.3,882.3 1847.4,885.0 1848.5,884.7 1849.6,883.2 1850.7,882.3 1851.8,884.7 1852.9,882.3 1854.0,880.9 1855.1,881.4 1856.2,884.3 1857.3,883.3 1858.4,885.4 1859.5,883.5 1860.6,883.7 1861.7,883.9 1862.8,884.1 1863.9,882.6 1865.0,882.7 1866.1,885.4 1867.2,885.5 1868.3,885.1 1869.4,885.4 1870.5,883.0 1871.6,889.1 1872.7,884.1 1873.8,887.6 1874.9,888.5 1876.0,886.6 1877.1,888.0 1878.2,885.2 1879.3,886.5 1880.4,883.1 1881.5,885.7 1882.6,883.4 1883.7,882.9 1884.8,887.3 1885.9,884.3 1887.0,884.5 1888.1,885.3 1889.2,885.3 1890.3,884.3 1891.4,884.8 1892.5,886.0 1893.6,881.3 1894.7,886.4 1895.8,883.2 1896.9,883.2 1898.0,881.5 1899.1,881.5 1900.2,880.6 1901.3,884.0 1902.4,884.9 1903.5,878.9 1904.6,879.9 1905.7,882.8 1906.8,879.8 1907.9,879.9 1909.0,880.8 1910.1,880.7 1911.2,883.5 1912.3,883.4 1913.4,880.7 1914.5,881.6 1915.6,881.2 1916.7,879.0 1917.8,877.9 1918.9,877.7 1920.0,882.6 1921.1,879.2 1922.2,876.1 1923.3,876.4 1924.4,880.2 1925.5,878.6 1926.6,879.2 1927.7,875.9 1928.8,875.3 1929.9,875.6 1931.0,880.1 1932.1,877.1 1933.2,877.3 1934.3,880.3 1935.4,879.6 1936.5,876.4 1937.6,879.4 1938.7,878.0 1939.8,878.5 1940.9,879.3 1942.0,880.4 1943.1,878.2 1944.2,880.2 1945.3,883.3 1946.4,879.2 1947.5,882.1 1948.6,878.2 1949.7,878.9 1950.8,879.8 1951.9,878.4 1953.0,880.9 1954.1,879.7 1955.2,881.4 1956.3,878.4 1957.4,879.8 1958.5,885.8 1959.6,879.8 1960.7,881.8 1961.8,881.4 1962.9,882.0 1964.0,881.2 1965.1,884.5 1966.2,883.4 1967.3,882.5 1968.4,883.5 1969.5,884.9 1970.6,881.1 1971.7,881.1 1972.8,885.3 1973.9,881.3 1975.0,881.1 1976.1,883.2 1977.2,879.1 1978.3,879.6 1979.4,878.9 1980.5,883.7 1981.6,880.0 1982.7,881.9 1983.8,881.3 1984.9,879.6 1986.0,877.7 1987.1,882.7 1988.2,879.8 1989.3,880.3 1990.4,877.8 1991.5,876.7 1992.6,877.0 1993.7,874.9 1994.8,875.5 1995.9,871.3 1997.0,867.2 1998.1,864.2 1999.2,857.6 2000.3,843.4 2001.4,810.2 2002.5,766.1 2003.6,724.0 2004.7,710.1 2005.8,740.2 2006.9,783.4 2008.0,813.3 2009.1,809.6 2010.2,799.5 2011.3,789.6 2012.4,803.9 2013.5,835.4 2014.6,855.7 2015.7,868.2 2016.8,869.8 2017.9,878.2 2019.0,874.1 2020.1,874.5 2021.2,875.6 2022.3,876.0 2023.4,876.9 2024.5,879.4 2025.6,879.8 2026.7,876.3 2027.8,878.4 2028.9,882.7 2030.0,880.9 2031.1,881.7 2032.2,879.2 2033.3,881.1 2034.4,880.1 2035.5,879.8 2036.6,882.3 2037.7,879.3 2038.8,882.2 2039.9,884.7 2041.0,884.5 2042.1,881.0 2043.2,881.0 2044.3,880.3 2045.4,882.3 2046.5,880.9 2047.6,882.3 2048.7,879.3 2049.8,881.1 2050.9,881.6 2052.0,878.3 2053.1,880.9 2054.2,881.9 2055.3,881.4 2056.4,881.4 2057.5,882.0 2058.6,882.4 2059.7,884.2 2060.8,881.0 2061.9,880.0 2063.0,878.3 2064.1,881.0 2065.2,883.0 2066.3,880.0 2067.4,879.6 2068.5,880.3 2069.6,883.0 2070.7,880.7 2071.8,880.9 2072.9,882.5 2074.0,881.8 2075.1,877.4 2076.2,882.4 2077.3,881.4 2078.4,881.9 2079.5,884.0 2080.6,882.2 2081.7,880.1 2082.8,881.8 2083.9,882.0 2085.0,883.2 2086.1,880.4 2087.2,880.3 2088.3,881.1 2089.4,880.7 2090.5,879.3 2091.6,883.0 2092.7,880.5 2093.8,882.5 2094.9,879.3 2096.0,877.0 2097.1,877.5 2098.2,879.7 2099.3,879.9 2100.4,881.4 2101.5,878.0 2102.6,880.0 2103.7,882.3 2104.8,877.2 2105.9,880.4 2107.0,875.7 2108.1,876.0 2109.2,874.4 2110.3,869.1 2111.4,861.7 2112.5,839.6 2113.6,796.5 2114.7,748.6 2115.8,717.5 2116.9,731.8 2118.0,778.7 2119.1,814.8 2120.2,833.6 2121.3,823.0 2122.4,805.5 2123.5,789.5 2124.6,801.4 2125.7,833.1 2126.8,858.4 2127.9,869.1 2129.0,877.4 2130.1,875.4 2131.2,877.1 2132.3,876.7 2133.4,878.6 2134.5,880.2 2135.6,880.8 2136.7,879.9 2137.8,882.6 2138.9,880.8 2140.0,882.8 2141.1,882.5 2142.2,880.4 2143.3,879.8 2144.4,881.2 2145.5,880.5 2146.6,879.0 2147.7,881.2 2148.8,883.9 2149.9,882.6 2151.0,879.0 2152.1,879.2 2153.2,880.0 2154.3,878.6 2155.4,880.7 2156.5,884.4 2157.6,882.6 2158.7,881.1 2159.8,880.3 2160.9,883.8 2162.0,886.5 2163.1,885.5 2164.2,884.3 2165.3,882.3 2166.4,885.0 2167.5,882.1 2168.6,879.2 2169.7,880.9 2170.8,882.9 2171.9,882.2 2173.0,884.3 2174.1,882.3 2175.2,883.4 2176.3,880.1 2177.4,882.9 2178.5,880.3 2179.6,883.0 2180.7,882.8 2181.8,881.1 2182.9,881.4 2184.0,883.2 2185.1,882.1 2186.2,881.7 2187.3,882.6 2188.4,885.9 2189.5,883.8 2190.6,886.0 2191.7,884.6 2192.8,885.4 2193.9,885.5 2195.0,883.5 2196.1,887.6 2197.2,880.8 2198.3,884.1 2199.4,884.0 2200.5,883.1 2201.6,885.0 2202.7,881.5 2203.8,881.2 2204.9,882.5 2206.0,881.2 2207.1,881.1 2208.2,880.9 2209.3,884.8 2210.4,882.3 2211.5,881.6 2212.6,883.9 2213.7,879.7 2214.8,882.5 2215.9,886.9 2217.0,882.9 2218.1,881.3 2219.2,883.3 2220.3,884.8 2221.4,884.3 2222.5,882.4 2223.6,882.8 2224.7,881.2 2225.8,881.8 2226.9,883.1 2228.0,878.8 2229.1,882.4 2230.2,881.7 2231.3,879.6 2232.4,880.6 2233.5,881.3 2234.6,882.4 2235.7,880.2 2236.8,880.7 2237.9,881.6 2239.0,883.0 2240.1,881.7 2241.2,884.2 2242.3,883.9 2243.4,888.0 2244.5,883.8 2245.6,881.7 2246.7,879.5 2247.8,883.3 2248.9,882.9 2250.0,881.7 2251.1,882.2 2252.2,881.0 2253.3,882.2 2254.4,882.3 2255.5,879.7 2256.6,880.7 2257.7,879.5 2258.8,880.6 2259.9,879.8 2261.0,880.9 2262.1,881.3 2263.2,879.0 2264.3,882.5 2265.4,883.4 2266.5,881.9 2267.6,880.0 2268.7,879.5 2269.8,879.0 2270.9,880.6 2272.0,879.4 2273.1,880.6 2274.2,880.9 2275.3,880.5 2276.4,882.5 2277.5,879.3 2278.6,880.1 2279.7,880.0 2280.8,879.5 2281.9,878.6 2283.0,881.0 2284.1,878.5 2285.2,881.0 2286.3,878.6 2287.4,876.3 2288.5,879.4 2289.6,877.7 2290.7,877.9 2291.8,879.0 2292.9,879.3 2294.0,882.1 2295.1,880.8 2296.2,881.9 2297.3,882.1 2298.4,882.2 2299.5,881.6 2300.6,880.0 2301.7,881.5 2302.8,883.9 2303.9,879.6 2305.0,882.0 2306.1,879.3 2307.2,881.7 2308.3,879.9 2309.4,878.0 2310.5,879.8 2311.6,882.0 2312.7,882.4 2313.8,882.9 2314.9,881.6 2316.0,880.2 2317.1,880.0 2318.2,880.3 2319.3,882.1 2320.4,880.5 2321.5,882.3 2322.6,881.8 2323.7,881.2 2324.8,878.3 2325.9,883.3 2327.0,884.4 2328.1,884.2 2329.2,881.1 2330.3,881.9 2331.4,878.6 2332.5,881.8 2333.6,883.4 2334.7,879.2 2335.8,883.1 2336.9,884.6 2338.0,882.2 2339.1,882.3 2340.2,883.8 2341.3,882.7 2342.4,883.7 2343.5,882.7 2344.6,885.2 2345.7,880.6 2346.8,882.5 2347.9,884.3" fill="none" stroke="#FA6E6E" stroke-width="8.0" stroke-linejoin="round" stroke-linecap="butt"/>
<g stroke="#000" stroke-width="11.6" stroke-linecap="butt">
<line x1="431.2" y1="271.9" x2="431.2" y2="883"/>
<line x1="741.2" y1="255.4" x2="741.2" y2="878.4"/>
<line x1="926.7" y1="267.6" x2="926.7" y2="859.5"/>
<line x1="1309.3" y1="260.4" x2="1309.3" y2="883.3"/>
<line x1="1551.2" y1="413.2" x2="1551.2" y2="859.5"/>
<line x1="1676.0" y1="454.6" x2="1676.0" y2="884.4"/>
</g>
<line x1="534.3" y1="1035.0" x2="549.5" y2="1568.4" stroke="#005B5C" stroke-width="16.0" stroke-dasharray="17.60 14.62" stroke-dashoffset="0"/>
<path d="M526.3,1020.4 L526.3,1017.6 A7.9,7.9 0 0 1 542.1,1017.6 L542.1,1020.4 Z" fill="#005B5C"/>
<line x1="740.8" y1="1059.7" x2="740.8" y2="1580" stroke="#D633FF" stroke-width="15.8" stroke-dasharray="16.60 15.60" stroke-dashoffset="0"/>
<circle cx="740.8" cy="1578" r="7.6" fill="#D633FF"/>
<line x1="952.7" y1="1022.3" x2="952.7" y2="1556.0" stroke="#D633FF" stroke-width="15.9" stroke-dasharray="16.60 15.70" stroke-dashoffset="0"/>
<line x1="1123.4" y1="674.0" x2="1117.9" y2="1560.6" stroke="#D633FF" stroke-width="15.9" stroke-dasharray="16.50 15.73" stroke-dashoffset="0"/>
<line x1="1653.8" y1="237.1" x2="1650.3" y2="1543.2" stroke="#2EFFFF" stroke-width="16.0" stroke-dasharray="16.80 15.44" stroke-dashoffset="0"/>
<line x1="2006.2" y1="352.8" x2="2006.2" y2="1560.6" stroke="#2EFFFF" stroke-width="12.2" stroke-dasharray="12.20 12.20" stroke-dashoffset="0"/>
<line x1="2115.5" y1="478.0" x2="2115.5" y2="1559.6" stroke="#2EFFFF" stroke-width="16.0" stroke-dasharray="16.80 15.44" stroke-dashoffset="0"/>
<text transform="translate(342.86,233.80) scale(1.1112,1.0)" font-family="&quot;Liberation Sans&quot;, Arial, Helvetica, sans-serif" font-weight="bold" font-size="80" fill="#000">(200)</text>
<text transform="translate(621.16,244.00) scale(1.1112,1.0)" font-family="&quot;Liberation Sans&quot;, Arial, Helvetica, sans-serif" font-weight="bold" font-size="80" fill="#000">(310)</text>
<text transform="translate(865.14,224.30) scale(1.1151,1.0)" font-family="&quot;Liberation Sans&quot;, Arial, Helvetica, sans-serif" font-weight="bold" font-size="80" fill="#000">(301)</text>
<text transform="translate(1215.92,233.30) scale(1.1454,1.0)" font-family="&quot;Liberation Sans&quot;, Arial, Helvetica, sans-serif" font-weight="bold" font-size="80" fill="#000">(411)</text>
<text transform="translate(1406.54,367.20) scale(1.1162,1.0)" font-family="&quot;Liberation Sans&quot;, Arial, Helvetica, sans-serif" font-weight="bold" font-size="80" fill="#000">(521)</text>
<text transform="translate(1623.55,426.30) scale(1.1117,1.0)" font-family="&quot;Liberation Sans&quot;, Arial, Helvetica, sans-serif" font-weight="bold" font-size="80" fill="#000">(002)</text>
<text transform="translate(1541.76,188.70) scale(1.1141,1.0)" font-family="&quot;Liberation Sans&quot;, Arial, Helvetica, sans-serif" font-weight="bold" font-size="80" fill="#000">Calcite</text>
<text transform="translate(1857.67,274.90) scale(1.1094,1.0)" font-family="&quot;Liberation Sans&quot;, Arial, Helvetica, sans-serif" font-weight="bold" font-size="80" fill="#000">Calcite</text>
<text transform="translate(2053.38,480.00) scale(1.1059,1.0)" font-family="&quot;Liberation Sans&quot;, Arial, Helvetica, sans-serif" font-weight="bold" font-size="80" fill="#000">Calcite</text>
<text transform="translate(998.14,656.80) scale(1.1194,1.04)" font-family="&quot;Liberation Sans&quot;, Arial, Helvetica, sans-serif" font-weight="bold" font-size="80" fill="#000">Quartz</text>
<text transform="translate(891.51,963.90) scale(1.1292,1.04)" font-family="&quot;Liberation Sans&quot;, Arial, Helvetica, sans-serif" font-weight="bold" font-size="70" fill="#000">Quartz</text>
<text transform="translate(642.81,1026.00) scale(1.1310,1.04)" font-family="&quot;Liberation Sans&quot;, Arial, Helvetica, sans-serif" font-weight="bold" font-size="70" fill="#000">Quartz</text>
<text transform="translate(338.05,1032.80) scale(1.1095,1.0)" font-family="&quot;Liberation Sans&quot;, Arial, Helvetica, sans-serif" font-weight="bold" font-size="80" fill="#000">Mellite</text>
<text transform="translate(243.95,852.80) scale(1.1116,1.0)" font-family="&quot;Liberation Sans&quot;, Arial, Helvetica, sans-serif" font-weight="bold" font-size="80" fill="#000">(c )</text>
<text transform="translate(229.24,1131.90) scale(1.1149,1.0)" font-family="&quot;Liberation Sans&quot;, Arial, Helvetica, sans-serif" font-weight="bold" font-size="80" fill="#000">(b)</text>
<text transform="translate(254.09,1428.40) scale(1.1267,1.0)" font-family="&quot;Liberation Sans&quot;, Arial, Helvetica, sans-serif" font-weight="bold" font-size="80" fill="#000">(a)</text>
<text transform="translate(442.85,1692.30) scale(1.1157,1.03)" font-family="&quot;Liberation Sans&quot;, Arial, Helvetica, sans-serif" font-weight="bold" font-size="80" fill="#000">20</text>
<text transform="translate(973.90,1692.20) scale(1.1000,1.03)" font-family="&quot;Liberation Sans&quot;, Arial, Helvetica, sans-serif" font-weight="bold" font-size="80" fill="#000">40</text>
<text transform="translate(1504.71,1692.20) scale(1.0964,1.03)" font-family="&quot;Liberation Sans&quot;, Arial, Helvetica, sans-serif" font-weight="bold" font-size="80" fill="#000">60</text>
<text transform="translate(2033.36,1692.30) scale(1.1120,1.03)" font-family="&quot;Liberation Sans&quot;, Arial, Helvetica, sans-serif" font-weight="bold" font-size="80" fill="#000">80</text>
<text transform="translate(939.86,1828.60) scale(1.1119,1.0)" font-family="&quot;Liberation Sans&quot;, Arial, Helvetica, sans-serif" font-weight="bold" font-size="80" fill="#000">2 Theta (Degree)</text>
<text transform="translate(91.6,939.66) rotate(-90) scale(1.0215,1)" font-family="&quot;Liberation Serif&quot;, &quot;Times New Roman&quot;, serif" font-weight="bold" font-size="80" fill="#000">Intensity</text>
</svg>
</body>
</html>
